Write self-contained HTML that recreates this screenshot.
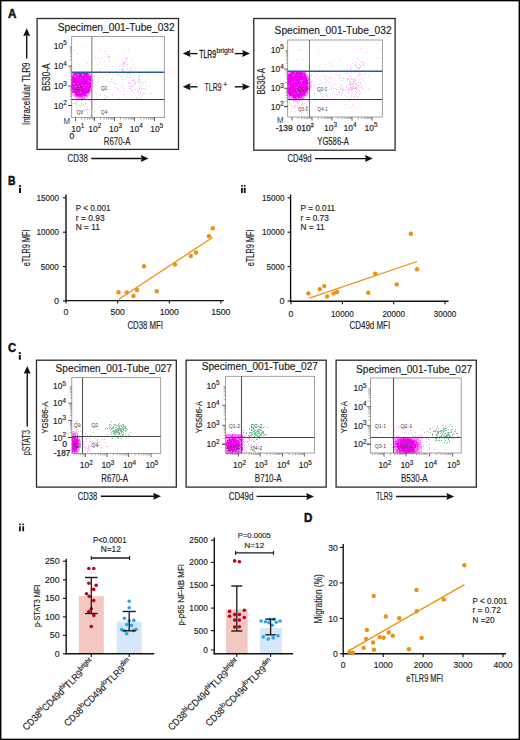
<!DOCTYPE html>
<html><head><meta charset="utf-8"><style>
html,body{margin:0;padding:0;background:#fff;}
body{width:520px;height:740px;position:relative;overflow:hidden;font-family:"Liberation Sans", sans-serif;}
.frame{position:absolute;left:0;top:0;width:518px;height:738px;border:1px solid #000;box-shadow:inset 0 0 0 0.6px #555;}
</style></head><body>
<svg width="520" height="740" viewBox="0 0 520 740" style="position:absolute;left:0;top:0;font-family:'Liberation Sans', sans-serif"><text x="8.1" y="18.1" font-size="12.6" fill="#111" stroke="#111" stroke-width="0.5" font-weight="bold" textLength="8.4" lengthAdjust="spacingAndGlyphs">A</text><rect x="37.1" y="18.5" width="141.4" height="130.9" fill="none" stroke="#2a2a2a" stroke-width="1.3"/><text x="57.7" y="30.7" font-size="10.5" fill="#1a1a1a" stroke="#1a1a1a" stroke-width="0.15" textLength="117" lengthAdjust="spacingAndGlyphs">Specimen_001-Tube_032</text><path d="M71 72h1v1h-1zM90 72h1v1h-1zM90 73h1v1h-1zM71 74h1v1h-1zM90 74h1v1h-1zM92 75h1v1h-1zM92 77h1v1h-1zM92 78h1v1h-1zM92 79h2v1h-2zM93 80h1v1h-1zM92 82h2v1h-2zM93 83h1v1h-1zM92 84h1v1h-1zM92 85h2v1h-2zM92 86h2v1h-2zM91 87h1v1h-1zM91 88h2v1h-2zM92 89h1v1h-1zM91 90h2v1h-2zM71 92h1v1h-1zM90 92h2v1h-2zM71 93h2v1h-2zM90 93h1v1h-1zM71 94h3v1h-3zM90 94h1v1h-1zM72 95h1v1h-1zM88 95h2v1h-2zM73 96h1v1h-1zM88 96h1v1h-1zM75 97h1v1h-1zM85 97h3v1h-3zM75 98h3v1h-3zM79 98h2v1h-2zM85 98h2v1h-2zM77 99h6v1h-6z" fill="#f000f0" fill-opacity="0.2"/><path d="M72 72h1v1h-1zM74 72h1v1h-1zM71 73h2v1h-2zM88 73h1v1h-1zM89 74h1v1h-1zM91 74h1v1h-1zM72 75h1v1h-1zM89 75h1v1h-1zM91 75h1v1h-1zM91 76h1v1h-1zM91 77h1v1h-1zM91 79h1v1h-1zM92 80h1v1h-1zM91 82h1v1h-1zM91 83h1v1h-1zM91 85h1v1h-1zM92 87h1v1h-1zM71 88h1v1h-1zM91 89h1v1h-1zM71 90h1v1h-1zM71 91h1v1h-1zM90 91h2v1h-2zM89 92h1v1h-1zM73 93h2v1h-2zM89 93h1v1h-1zM74 94h1v1h-1zM87 94h3v1h-3zM73 95h1v1h-1zM75 95h1v1h-1zM74 96h2v1h-2zM83 96h2v1h-2zM87 96h1v1h-1zM76 97h2v1h-2zM79 97h1v1h-1zM81 97h3v1h-3zM78 98h1v1h-1zM81 98h1v1h-1zM83 98h2v1h-2z" fill="#f000f0" fill-opacity="0.4"/><path d="M73 72h1v1h-1zM88 72h2v1h-2zM73 73h1v1h-1zM72 74h1v1h-1zM77 74h1v1h-1zM82 74h2v1h-2zM71 75h1v1h-1zM75 75h1v1h-1zM78 75h1v1h-1zM82 75h1v1h-1zM71 76h1v1h-1zM74 76h2v1h-2zM71 77h1v1h-1zM77 77h1v1h-1zM85 77h1v1h-1zM80 78h1v1h-1zM85 78h1v1h-1zM88 80h1v1h-1zM89 81h4v1h-4zM73 83h2v1h-2zM92 83h1v1h-1zM91 84h1v1h-1zM82 85h1v1h-1zM85 85h1v1h-1zM75 86h2v1h-2zM79 86h1v1h-1zM88 86h1v1h-1zM91 86h1v1h-1zM84 87h1v1h-1zM78 88h1v1h-1zM80 88h1v1h-1zM90 88h1v1h-1zM72 90h1v1h-1zM90 90h1v1h-1zM80 92h1v1h-1zM87 93h2v1h-2zM86 94h1v1h-1zM74 95h1v1h-1zM83 95h1v1h-1zM86 95h2v1h-2zM77 96h1v1h-1zM85 96h2v1h-2zM78 97h1v1h-1zM84 97h1v1h-1zM82 98h1v1h-1z" fill="#f000f0" fill-opacity="0.6"/><path d="M87 72h1v1h-1zM89 73h1v1h-1zM90 75h1v1h-1zM90 77h1v1h-1zM91 78h1v1h-1zM91 80h1v1h-1zM90 89h1v1h-1zM89 90h1v1h-1zM72 92h2v1h-2zM76 96h1v1h-1zM78 96h4v1h-4zM80 97h1v1h-1z" fill="#f000f0" fill-opacity="0.8"/><path d="M75 72h12v1h-12zM74 73h14v1h-14zM73 74h4v1h-4zM78 74h4v1h-4zM84 74h5v1h-5zM73 75h2v1h-2zM76 75h2v1h-2zM79 75h3v1h-3zM83 75h6v1h-6zM72 76h2v1h-2zM76 76h15v1h-15zM72 77h5v1h-5zM78 77h7v1h-7zM86 77h4v1h-4zM71 78h9v1h-9zM81 78h4v1h-4zM86 78h5v1h-5zM71 79h20v1h-20zM71 80h17v1h-17zM89 80h2v1h-2zM71 81h18v1h-18zM71 82h20v1h-20zM71 83h2v1h-2zM75 83h16v1h-16zM71 84h20v1h-20zM71 85h11v1h-11zM83 85h2v1h-2zM86 85h5v1h-5zM71 86h4v1h-4zM77 86h2v1h-2zM80 86h8v1h-8zM89 86h2v1h-2zM71 87h13v1h-13zM85 87h6v1h-6zM72 88h6v1h-6zM79 88h1v1h-1zM81 88h9v1h-9zM71 89h19v1h-19zM73 90h16v1h-16zM72 91h18v1h-18zM74 92h6v1h-6zM81 92h8v1h-8zM75 93h12v1h-12zM75 94h11v1h-11zM76 95h7v1h-7zM84 95h2v1h-2zM82 96h1v1h-1z" fill="#f000f0" fill-opacity="1.0"/><path d="M83 109h1v1h-1zM85 93h1v1h-1zM77 101h1v1h-1zM83 105h1v1h-1zM76 105h1v1h-1zM74 99h1v1h-1zM75 103h1v1h-1zM76 100h1v1h-1zM81 105h1v1h-1zM76 101h1v1h-1zM83 98h1v1h-1zM92 102h1v1h-1zM81 104h1v1h-1zM90 116h1v1h-1zM84 99h1v1h-1zM75 104h1v1h-1zM80 111h1v1h-1zM76 90h1v1h-1zM87 92h1v1h-1zM75 95h1v1h-1zM90 101h1v1h-1zM87 109h1v1h-1zM91 101h1v1h-1zM77 87h1v1h-1zM88 88h1v1h-1zM84 103h1v1h-1zM85 109h1v1h-1zM84 111h1v1h-1zM96 97h1v1h-1zM78 95h1v1h-1zM87 107h1v1h-1zM83 95h1v1h-1zM80 107h1v1h-1zM86 95h1v1h-1zM92 107h1v1h-1zM75 103h1v1h-1zM85 99h1v1h-1zM84 97h1v1h-1zM73 103h1v1h-1zM92 91h1v1h-1zM94 100h1v1h-1zM76 100h1v1h-1zM92 106h1v1h-1zM82 94h1v1h-1zM81 112h1v1h-1zM91 100h1v1h-1zM83 95h1v1h-1zM84 110h1v1h-1zM91 112h1v1h-1zM90 101h1v1h-1zM87 97h1v1h-1zM74 102h1v1h-1zM89 100h1v1h-1zM76 111h1v1h-1zM83 104h1v1h-1zM76 103h1v1h-1zM81 104h1v1h-1zM74 102h1v1h-1zM92 107h1v1h-1zM76 107h1v1h-1zM81 100h1v1h-1zM81 103h1v1h-1zM77 62h1v1h-1zM87 63h1v1h-1zM82 46h1v1h-1zM77 53h1v1h-1zM79 64h1v1h-1zM74 50h1v1h-1zM99 69h1v1h-1zM99 61h1v1h-1zM108 57h1v1h-1zM98 58h1v1h-1zM99 71h1v1h-1zM112 66h1v1h-1zM99 49h1v1h-1zM109 61h1v1h-1zM109 59h1v1h-1zM101 59h1v1h-1zM95 57h1v1h-1zM104 51h1v1h-1zM105 65h1v1h-1zM107 54h1v1h-1zM102 58h1v1h-1zM108 56h1v1h-1zM109 56h1v1h-1zM97 64h1v1h-1zM127 73h1v1h-1zM124 64h1v1h-1zM123 61h1v1h-1zM124 66h1v1h-1zM129 73h1v1h-1zM126 58h1v1h-1zM127 64h1v1h-1zM125 58h1v1h-1zM125 79h1v1h-1zM127 77h1v1h-1zM120 72h1v1h-1zM132 65h1v1h-1zM123 70h1v1h-1zM124 53h1v1h-1zM131 68h1v1h-1zM127 58h1v1h-1zM126 58h1v1h-1zM124 62h1v1h-1zM121 64h1v1h-1zM127 69h1v1h-1zM130 70h1v1h-1zM123 68h1v1h-1zM131 60h1v1h-1zM122 70h1v1h-1zM123 65h1v1h-1zM128 73h1v1h-1zM126 60h1v1h-1zM128 49h1v1h-1zM123 63h1v1h-1zM122 79h1v1h-1zM119 69h1v1h-1zM122 65h1v1h-1zM122 71h1v1h-1zM121 69h1v1h-1zM127 69h1v1h-1zM124 63h1v1h-1zM119 66h1v1h-1zM135 67h1v1h-1zM123 62h1v1h-1zM122 59h1v1h-1zM130 67h1v1h-1zM130 72h1v1h-1zM122 70h1v1h-1zM121 69h1v1h-1zM122 69h1v1h-1zM151 93h1v1h-1zM139 89h1v1h-1zM143 88h1v1h-1zM148 93h1v1h-1zM138 81h1v1h-1zM139 76h1v1h-1zM143 84h1v1h-1zM146 85h1v1h-1zM140 92h1v1h-1zM140 97h1v1h-1zM138 79h1v1h-1zM132 98h1v1h-1zM144 94h1v1h-1zM137 90h1v1h-1zM129 88h1v1h-1zM137 98h1v1h-1zM129 86h1v1h-1zM133 84h1v1h-1zM138 87h1v1h-1zM133 79h1v1h-1zM143 88h1v1h-1zM131 86h1v1h-1zM139 88h1v1h-1zM141 88h1v1h-1zM145 81h1v1h-1zM143 93h1v1h-1zM139 81h1v1h-1zM138 91h1v1h-1zM138 78h1v1h-1zM144 88h1v1h-1zM135 82h1v1h-1zM141 86h1v1h-1zM138 83h1v1h-1zM139 75h1v1h-1zM137 81h1v1h-1zM149 86h1v1h-1zM135 89h1v1h-1zM139 79h1v1h-1zM139 75h1v1h-1zM141 82h1v1h-1zM140 85h1v1h-1zM140 83h1v1h-1zM143 82h1v1h-1zM131 90h1v1h-1zM138 91h1v1h-1zM132 90h1v1h-1zM139 81h1v1h-1zM132 86h1v1h-1zM133 85h1v1h-1zM138 79h1v1h-1zM130 88h1v1h-1zM130 83h1v1h-1zM122 86h1v1h-1zM124 90h1v1h-1zM104 95h1v1h-1zM123 88h1v1h-1zM129 83h1v1h-1zM119 98h1v1h-1zM130 77h1v1h-1zM118 74h1v1h-1zM136 97h1v1h-1zM132 80h1v1h-1zM98 77h1v1h-1zM135 83h1v1h-1zM108 82h1v1h-1zM97 82h1v1h-1zM100 95h1v1h-1zM110 81h1v1h-1zM121 76h1v1h-1zM111 79h1v1h-1zM104 98h1v1h-1zM135 84h1v1h-1zM113 82h1v1h-1zM140 93h1v1h-1zM106 97h1v1h-1zM130 86h1v1h-1zM112 94h1v1h-1zM139 80h1v1h-1zM128 82h1v1h-1zM130 88h1v1h-1zM98 79h1v1h-1zM134 80h1v1h-1zM112 78h1v1h-1zM133 80h1v1h-1zM139 95h1v1h-1zM100 94h1v1h-1zM94 76h1v1h-1zM134 82h1v1h-1zM145 92h1v1h-1zM142 95h1v1h-1zM117 88h1v1h-1zM138 92h1v1h-1zM94 79h1v1h-1zM96 93h1v1h-1zM124 94h1v1h-1zM121 84h1v1h-1zM138 79h1v1h-1zM106 74h1v1h-1zM118 89h1v1h-1zM146 89h1v1h-1zM109 73h1v1h-1zM115 87h1v1h-1zM126 97h1v1h-1zM147 74h1v1h-1zM103 77h1v1h-1zM130 75h1v1h-1zM115 84h1v1h-1zM115 83h1v1h-1zM107 96h1v1h-1zM118 75h1v1h-1zM86 110h1v1h-1zM94 111h1v1h-1zM87 112h1v1h-1zM87 114h1v1h-1zM89 109h1v1h-1zM85 103h1v1h-1zM77 109h1v1h-1zM99 106h1v1h-1zM79 105h1v1h-1zM86 109h1v1h-1zM92 115h1v1h-1z" fill="#f000f0" fill-opacity="0.27"/><rect x="71.7" y="36.5" width="92.60000000000001" height="81.1" fill="none" stroke="#8a8a8a" stroke-width="0.8"/><line x1="91.8" y1="36.5" x2="91.8" y2="117.6" stroke="#8c8c8c" stroke-width="1.2"/><line x1="71.7" y1="72.2" x2="164.3" y2="72.2" stroke="#2a5d95" stroke-width="1.5"/><line x1="71.7" y1="99.5" x2="164.3" y2="99.5" stroke="#3a3a3a" stroke-width="1.0"/><text x="79" y="89.7" font-size="5" text-anchor="middle" fill="#444">Q1</text><text x="104" y="89.7" font-size="5" text-anchor="middle" fill="#444">Q2</text><text x="79.8" y="114.3" font-size="5" text-anchor="middle" fill="#444">Q3</text><text x="104.1" y="114.3" font-size="5" text-anchor="middle" fill="#444">Q4</text><text x="53.7" y="48.9" font-size="8.5" fill="#222" stroke="#222" stroke-width="0.15">10<tspan dy="-3.57" font-size="6.30">5</tspan></text><text x="53.7" y="69.1" font-size="8.5" fill="#222" stroke="#222" stroke-width="0.15">10<tspan dy="-3.57" font-size="6.30">4</tspan></text><text x="53.7" y="89.1" font-size="8.5" fill="#222" stroke="#222" stroke-width="0.15">10<tspan dy="-3.57" font-size="6.30">3</tspan></text><text x="53.7" y="108.6" font-size="8.5" fill="#222" stroke="#222" stroke-width="0.15">10<tspan dy="-3.57" font-size="6.30">2</tspan></text><line x1="68.10000000000001" y1="66.0" x2="71.7" y2="66.0" stroke="#333" stroke-width="0.75"/><line x1="69.7" y1="59.9" x2="71.7" y2="59.9" stroke="#777" stroke-width="0.6"/><line x1="69.7" y1="56.4" x2="71.7" y2="56.4" stroke="#777" stroke-width="0.6"/><line x1="69.7" y1="53.8" x2="71.7" y2="53.8" stroke="#777" stroke-width="0.6"/><line x1="69.7" y1="51.9" x2="71.7" y2="51.9" stroke="#777" stroke-width="0.6"/><line x1="69.7" y1="50.3" x2="71.7" y2="50.3" stroke="#777" stroke-width="0.6"/><line x1="69.7" y1="48.9" x2="71.7" y2="48.9" stroke="#777" stroke-width="0.6"/><line x1="69.7" y1="47.8" x2="71.7" y2="47.8" stroke="#777" stroke-width="0.6"/><line x1="69.7" y1="46.7" x2="71.7" y2="46.7" stroke="#777" stroke-width="0.6"/><line x1="68.10000000000001" y1="86.0" x2="71.7" y2="86.0" stroke="#333" stroke-width="0.75"/><line x1="69.7" y1="80.0" x2="71.7" y2="80.0" stroke="#777" stroke-width="0.6"/><line x1="69.7" y1="76.5" x2="71.7" y2="76.5" stroke="#777" stroke-width="0.6"/><line x1="69.7" y1="74.0" x2="71.7" y2="74.0" stroke="#777" stroke-width="0.6"/><line x1="69.7" y1="72.0" x2="71.7" y2="72.0" stroke="#777" stroke-width="0.6"/><line x1="69.7" y1="70.4" x2="71.7" y2="70.4" stroke="#777" stroke-width="0.6"/><line x1="69.7" y1="69.1" x2="71.7" y2="69.1" stroke="#777" stroke-width="0.6"/><line x1="69.7" y1="67.9" x2="71.7" y2="67.9" stroke="#777" stroke-width="0.6"/><line x1="69.7" y1="66.9" x2="71.7" y2="66.9" stroke="#777" stroke-width="0.6"/><line x1="68.10000000000001" y1="105.5" x2="71.7" y2="105.5" stroke="#333" stroke-width="0.75"/><line x1="69.7" y1="99.6" x2="71.7" y2="99.6" stroke="#777" stroke-width="0.6"/><line x1="69.7" y1="96.2" x2="71.7" y2="96.2" stroke="#777" stroke-width="0.6"/><line x1="69.7" y1="93.8" x2="71.7" y2="93.8" stroke="#777" stroke-width="0.6"/><line x1="69.7" y1="91.9" x2="71.7" y2="91.9" stroke="#777" stroke-width="0.6"/><line x1="69.7" y1="90.3" x2="71.7" y2="90.3" stroke="#777" stroke-width="0.6"/><line x1="69.7" y1="89.0" x2="71.7" y2="89.0" stroke="#777" stroke-width="0.6"/><line x1="69.7" y1="87.9" x2="71.7" y2="87.9" stroke="#777" stroke-width="0.6"/><line x1="69.7" y1="86.9" x2="71.7" y2="86.9" stroke="#777" stroke-width="0.6"/><line x1="68.10000000000001" y1="105.5" x2="71.7" y2="105.5" stroke="#333" stroke-width="0.75"/><line x1="75.5" y1="117.6" x2="75.5" y2="121.19999999999999" stroke="#333" stroke-width="0.75"/><line x1="81.5" y1="117.6" x2="81.5" y2="119.6" stroke="#777" stroke-width="0.6"/><line x1="85.0" y1="117.6" x2="85.0" y2="119.6" stroke="#777" stroke-width="0.6"/><line x1="87.5" y1="117.6" x2="87.5" y2="119.6" stroke="#777" stroke-width="0.6"/><line x1="89.5" y1="117.6" x2="89.5" y2="119.6" stroke="#777" stroke-width="0.6"/><line x1="91.1" y1="117.6" x2="91.1" y2="119.6" stroke="#777" stroke-width="0.6"/><line x1="92.4" y1="117.6" x2="92.4" y2="119.6" stroke="#777" stroke-width="0.6"/><line x1="93.6" y1="117.6" x2="93.6" y2="119.6" stroke="#777" stroke-width="0.6"/><line x1="94.6" y1="117.6" x2="94.6" y2="119.6" stroke="#777" stroke-width="0.6"/><line x1="94.5" y1="117.6" x2="94.5" y2="121.19999999999999" stroke="#333" stroke-width="0.75"/><line x1="100.5" y1="117.6" x2="100.5" y2="119.6" stroke="#777" stroke-width="0.6"/><line x1="104.0" y1="117.6" x2="104.0" y2="119.6" stroke="#777" stroke-width="0.6"/><line x1="106.5" y1="117.6" x2="106.5" y2="119.6" stroke="#777" stroke-width="0.6"/><line x1="108.5" y1="117.6" x2="108.5" y2="119.6" stroke="#777" stroke-width="0.6"/><line x1="110.1" y1="117.6" x2="110.1" y2="119.6" stroke="#777" stroke-width="0.6"/><line x1="111.4" y1="117.6" x2="111.4" y2="119.6" stroke="#777" stroke-width="0.6"/><line x1="112.6" y1="117.6" x2="112.6" y2="119.6" stroke="#777" stroke-width="0.6"/><line x1="113.6" y1="117.6" x2="113.6" y2="119.6" stroke="#777" stroke-width="0.6"/><line x1="114.5" y1="117.6" x2="114.5" y2="121.19999999999999" stroke="#333" stroke-width="0.75"/><line x1="120.5" y1="117.6" x2="120.5" y2="119.6" stroke="#777" stroke-width="0.6"/><line x1="124.0" y1="117.6" x2="124.0" y2="119.6" stroke="#777" stroke-width="0.6"/><line x1="126.5" y1="117.6" x2="126.5" y2="119.6" stroke="#777" stroke-width="0.6"/><line x1="128.5" y1="117.6" x2="128.5" y2="119.6" stroke="#777" stroke-width="0.6"/><line x1="130.1" y1="117.6" x2="130.1" y2="119.6" stroke="#777" stroke-width="0.6"/><line x1="131.4" y1="117.6" x2="131.4" y2="119.6" stroke="#777" stroke-width="0.6"/><line x1="132.6" y1="117.6" x2="132.6" y2="119.6" stroke="#777" stroke-width="0.6"/><line x1="133.6" y1="117.6" x2="133.6" y2="119.6" stroke="#777" stroke-width="0.6"/><line x1="134.5" y1="117.6" x2="134.5" y2="121.19999999999999" stroke="#333" stroke-width="0.75"/><line x1="140.5" y1="117.6" x2="140.5" y2="119.6" stroke="#777" stroke-width="0.6"/><line x1="144.0" y1="117.6" x2="144.0" y2="119.6" stroke="#777" stroke-width="0.6"/><line x1="146.5" y1="117.6" x2="146.5" y2="119.6" stroke="#777" stroke-width="0.6"/><line x1="148.5" y1="117.6" x2="148.5" y2="119.6" stroke="#777" stroke-width="0.6"/><line x1="150.1" y1="117.6" x2="150.1" y2="119.6" stroke="#777" stroke-width="0.6"/><line x1="151.4" y1="117.6" x2="151.4" y2="119.6" stroke="#777" stroke-width="0.6"/><line x1="152.6" y1="117.6" x2="152.6" y2="119.6" stroke="#777" stroke-width="0.6"/><line x1="153.6" y1="117.6" x2="153.6" y2="119.6" stroke="#777" stroke-width="0.6"/><line x1="154.5" y1="117.6" x2="154.5" y2="121.19999999999999" stroke="#333" stroke-width="0.75"/><text x="63.6" y="123.6" font-size="8.8" fill="#2a5d95" stroke="#2a5d95" stroke-width="0.1" textLength="6.5" lengthAdjust="spacingAndGlyphs">M</text><text x="71.2" y="131.9" font-size="8.5" fill="#222" stroke="#222" stroke-width="0.15">10<tspan dy="-3.57" font-size="6.30">1</tspan></text><text x="88.3" y="131.9" font-size="8.5" fill="#222" stroke="#222" stroke-width="0.15">10<tspan dy="-3.57" font-size="6.30">2</tspan></text><text x="109" y="131.9" font-size="8.5" fill="#222" stroke="#222" stroke-width="0.15">10<tspan dy="-3.57" font-size="6.30">3</tspan></text><text x="129.8" y="131.9" font-size="8.5" fill="#222" stroke="#222" stroke-width="0.15">10<tspan dy="-3.57" font-size="6.30">4</tspan></text><text x="150.3" y="131.9" font-size="8.5" fill="#222" stroke="#222" stroke-width="0.15">10<tspan dy="-3.57" font-size="6.30">5</tspan></text><text x="69.6" y="139" font-size="8.5" fill="#222" stroke="#222" stroke-width="0.25">0</text><text x="103.8" y="144.7" font-size="10.2" fill="#222" stroke="#222" stroke-width="0.15" textLength="26.6" lengthAdjust="spacingAndGlyphs">R670-A</text><text x="49.8" y="91" font-size="10" fill="#222" stroke="#222" stroke-width="0.15" textLength="27.5" lengthAdjust="spacingAndGlyphs" transform="rotate(-90 49.8 91)">B530-A</text><text x="67.6" y="162.1" font-size="10.3" fill="#222" stroke="#222" stroke-width="0.15" textLength="20.2" lengthAdjust="spacingAndGlyphs">CD38</text><line x1="91.2" y1="158.5" x2="141.79999999999998" y2="158.5" stroke="#111" stroke-width="1.4"/><path d="M148.6 158.5L140.79999999999998 155.0L141.7 158.5L140.79999999999998 162.0Z" fill="#111"/><text x="30.2" y="125" font-size="10" fill="#222" stroke="#222" stroke-width="0.15" textLength="62.3" lengthAdjust="spacingAndGlyphs" transform="rotate(-90 30.2 125)">Intracellular TLR9</text><line x1="26.7" y1="58.5" x2="26.7" y2="35.1" stroke="#111" stroke-width="1.4"/><path d="M26.7 28.3L23.2 36.1L26.7 35.2L30.2 36.1Z" fill="#111"/><line x1="189.5" y1="53.6" x2="197.5" y2="53.6" stroke="#111" stroke-width="1.4"/><path d="M182.7 53.6L190.5 50.1L189.6 53.6L190.5 57.1Z" fill="#111"/><text x="199.2" y="57.5" font-size="10.8" fill="#1a1a1a" stroke="#1a1a1a" stroke-width="0.3" textLength="17" lengthAdjust="spacingAndGlyphs">TLR9</text><text x="216.4" y="53" font-size="6.6" fill="#222" stroke="#222" stroke-width="0.15" textLength="17.2" lengthAdjust="spacingAndGlyphs">bright</text><line x1="234.8" y1="53.6" x2="243.2" y2="53.6" stroke="#111" stroke-width="1.4"/><path d="M250 53.6L242.2 50.1L243.1 53.6L242.2 57.1Z" fill="#111"/><line x1="189.5" y1="86.8" x2="197.5" y2="86.8" stroke="#111" stroke-width="1.4"/><path d="M182.7 86.8L190.5 83.3L189.6 86.8L190.5 90.3Z" fill="#111"/><text x="204.6" y="90.7" font-size="10.8" fill="#222" stroke="#222" stroke-width="0.15" textLength="17" lengthAdjust="spacingAndGlyphs">TLR9</text><text x="223" y="87.2" font-size="7.5" fill="#222" stroke="#222" stroke-width="0.15">+</text><line x1="234.8" y1="86.8" x2="243.2" y2="86.8" stroke="#111" stroke-width="1.4"/><path d="M250 86.8L242.2 83.3L243.1 86.8L242.2 90.3Z" fill="#111"/><rect x="253.8" y="18.5" width="141.3" height="131.7" fill="none" stroke="#2a2a2a" stroke-width="1.3"/><text x="274.6" y="33.8" font-size="10.2" fill="#1a1a1a" stroke="#1a1a1a" stroke-width="0.15" textLength="117" lengthAdjust="spacingAndGlyphs">Specimen_001-Tube_032</text><path d="M306 72h1v1h-1zM287 73h1v1h-1zM306 73h2v1h-2zM307 74h1v1h-1zM308 75h2v1h-2zM308 76h2v1h-2zM310 77h1v1h-1zM309 78h2v1h-2zM310 79h1v1h-1zM309 80h2v1h-2zM310 81h2v1h-2zM310 82h1v1h-1zM310 83h2v1h-2zM310 84h2v1h-2zM309 85h1v1h-1zM311 85h1v1h-1zM311 86h1v1h-1zM311 87h1v1h-1zM310 88h1v1h-1zM310 89h1v1h-1zM308 90h1v1h-1zM310 90h1v1h-1zM309 91h1v1h-1zM308 92h2v1h-2zM308 93h2v1h-2zM307 94h1v1h-1zM307 95h1v1h-1zM305 96h2v1h-2zM287 97h2v1h-2zM305 97h2v1h-2zM288 98h2v1h-2zM292 98h1v1h-1zM304 98h1v1h-1zM289 99h2v1h-2zM293 99h1v1h-1zM298 99h1v1h-1zM301 99h3v1h-3zM291 100h2v1h-2zM294 100h1v1h-1zM296 100h3v1h-3zM300 100h2v1h-2zM294 101h5v1h-5z" fill="#f000f0" fill-opacity="0.2"/><path d="M287 72h2v1h-2zM305 72h1v1h-1zM289 73h1v1h-1zM305 73h1v1h-1zM306 75h2v1h-2zM307 76h1v1h-1zM309 77h1v1h-1zM308 78h1v1h-1zM309 79h1v1h-1zM308 80h1v1h-1zM308 81h2v1h-2zM308 84h2v1h-2zM308 85h1v1h-1zM310 85h1v1h-1zM309 86h2v1h-2zM308 87h1v1h-1zM310 87h1v1h-1zM309 89h1v1h-1zM309 90h1v1h-1zM307 91h2v1h-2zM306 93h1v1h-1zM287 94h1v1h-1zM306 94h1v1h-1zM288 95h1v1h-1zM306 95h1v1h-1zM287 96h1v1h-1zM290 96h1v1h-1zM304 96h1v1h-1zM290 97h1v1h-1zM303 97h2v1h-2zM290 98h2v1h-2zM294 98h1v1h-1zM297 98h1v1h-1zM299 98h2v1h-2zM303 98h1v1h-1zM291 99h2v1h-2zM300 99h1v1h-1zM293 100h1v1h-1zM295 100h1v1h-1zM299 100h1v1h-1z" fill="#f000f0" fill-opacity="0.4"/><path d="M289 72h2v1h-2zM295 72h1v1h-1zM302 72h1v1h-1zM288 73h1v1h-1zM287 74h1v1h-1zM294 74h1v1h-1zM306 74h1v1h-1zM292 75h1v1h-1zM303 75h1v1h-1zM306 76h1v1h-1zM307 77h2v1h-2zM307 78h1v1h-1zM307 79h1v1h-1zM300 80h1v1h-1zM302 80h1v1h-1zM294 81h1v1h-1zM301 81h1v1h-1zM291 82h1v1h-1zM308 82h2v1h-2zM301 83h1v1h-1zM309 83h1v1h-1zM289 84h1v1h-1zM298 85h1v1h-1zM307 85h1v1h-1zM287 86h3v1h-3zM308 86h1v1h-1zM296 87h1v1h-1zM309 87h1v1h-1zM303 88h1v1h-1zM309 88h1v1h-1zM300 89h1v1h-1zM308 89h1v1h-1zM296 90h1v1h-1zM307 90h1v1h-1zM298 92h1v1h-1zM307 92h1v1h-1zM294 93h1v1h-1zM307 93h1v1h-1zM288 94h1v1h-1zM305 94h1v1h-1zM288 96h2v1h-2zM291 96h1v1h-1zM300 96h1v1h-1zM302 96h2v1h-2zM289 97h1v1h-1zM291 97h2v1h-2zM296 97h2v1h-2zM302 97h1v1h-1zM301 98h2v1h-2zM294 99h4v1h-4zM299 99h1v1h-1z" fill="#f000f0" fill-opacity="0.6"/><path d="M303 72h2v1h-2zM303 73h1v1h-1zM305 74h1v1h-1zM305 75h1v1h-1zM308 79h1v1h-1zM308 83h1v1h-1zM308 88h1v1h-1zM306 92h1v1h-1zM287 93h1v1h-1zM305 93h1v1h-1zM287 95h1v1h-1zM303 95h3v1h-3zM301 97h1v1h-1zM293 98h1v1h-1zM298 98h1v1h-1z" fill="#f000f0" fill-opacity="0.8"/><path d="M291 72h4v1h-4zM296 72h6v1h-6zM290 73h13v1h-13zM304 73h1v1h-1zM288 74h6v1h-6zM295 74h10v1h-10zM287 75h5v1h-5zM293 75h10v1h-10zM304 75h1v1h-1zM287 76h19v1h-19zM287 77h20v1h-20zM287 78h20v1h-20zM287 79h20v1h-20zM287 80h13v1h-13zM301 80h1v1h-1zM303 80h5v1h-5zM287 81h7v1h-7zM295 81h6v1h-6zM302 81h6v1h-6zM287 82h4v1h-4zM292 82h16v1h-16zM287 83h14v1h-14zM302 83h6v1h-6zM287 84h2v1h-2zM290 84h18v1h-18zM287 85h11v1h-11zM299 85h8v1h-8zM290 86h18v1h-18zM287 87h9v1h-9zM297 87h11v1h-11zM287 88h16v1h-16zM304 88h4v1h-4zM287 89h13v1h-13zM301 89h7v1h-7zM287 90h9v1h-9zM297 90h10v1h-10zM287 91h20v1h-20zM287 92h11v1h-11zM299 92h7v1h-7zM288 93h6v1h-6zM295 93h10v1h-10zM289 94h16v1h-16zM289 95h14v1h-14zM292 96h8v1h-8zM301 96h1v1h-1zM293 97h3v1h-3zM298 97h3v1h-3zM295 98h2v1h-2z" fill="#f000f0" fill-opacity="1.0"/><path d="M314 93h1v1h-1zM311 81h1v1h-1zM342 77h1v1h-1zM341 80h1v1h-1zM334 98h1v1h-1zM327 87h1v1h-1zM343 80h1v1h-1zM324 77h1v1h-1zM310 75h1v1h-1zM325 82h1v1h-1zM329 89h1v1h-1zM329 85h1v1h-1zM341 94h1v1h-1zM312 99h1v1h-1zM340 88h1v1h-1zM328 82h1v1h-1zM336 94h1v1h-1zM324 75h1v1h-1zM320 93h1v1h-1zM322 96h1v1h-1zM320 93h1v1h-1zM326 76h1v1h-1zM331 88h1v1h-1zM339 94h1v1h-1zM316 84h1v1h-1zM326 95h1v1h-1zM329 77h1v1h-1zM339 87h1v1h-1zM335 88h1v1h-1zM332 93h1v1h-1zM334 84h1v1h-1zM326 80h1v1h-1zM338 92h1v1h-1zM339 76h1v1h-1zM330 83h1v1h-1zM314 85h1v1h-1zM325 93h1v1h-1zM319 84h1v1h-1zM317 88h1v1h-1zM320 91h1v1h-1zM339 91h1v1h-1zM322 98h1v1h-1zM325 85h1v1h-1zM323 88h1v1h-1zM316 74h1v1h-1zM330 78h1v1h-1zM325 79h1v1h-1zM343 78h1v1h-1zM332 86h1v1h-1zM344 78h1v1h-1zM340 88h1v1h-1zM327 94h1v1h-1zM311 75h1v1h-1zM317 79h1v1h-1zM314 86h1v1h-1zM336 74h1v1h-1zM315 77h1v1h-1zM333 88h1v1h-1zM321 83h1v1h-1zM327 96h1v1h-1zM355 78h1v1h-1zM350 76h1v1h-1zM338 99h1v1h-1zM351 83h1v1h-1zM360 74h1v1h-1zM339 78h1v1h-1zM346 87h1v1h-1zM351 96h1v1h-1zM342 87h1v1h-1zM347 96h1v1h-1zM351 88h1v1h-1zM342 90h1v1h-1zM353 94h1v1h-1zM353 84h1v1h-1zM342 89h1v1h-1zM351 84h1v1h-1zM358 82h1v1h-1zM350 92h1v1h-1zM354 81h1v1h-1zM355 87h1v1h-1zM349 81h1v1h-1zM357 86h1v1h-1zM353 83h1v1h-1zM344 95h1v1h-1zM354 87h1v1h-1zM356 87h1v1h-1zM356 99h1v1h-1zM347 65h1v1h-1zM354 78h1v1h-1zM360 66h1v1h-1zM352 86h1v1h-1zM358 90h1v1h-1zM359 91h1v1h-1zM351 88h1v1h-1zM355 80h1v1h-1zM349 100h1v1h-1zM358 89h1v1h-1zM350 84h1v1h-1zM347 78h1v1h-1zM351 89h1v1h-1zM350 83h1v1h-1zM353 83h1v1h-1zM354 88h1v1h-1zM343 88h1v1h-1zM347 80h1v1h-1zM353 96h1v1h-1zM354 79h1v1h-1zM351 78h1v1h-1zM368 89h1v1h-1zM358 87h1v1h-1zM350 87h1v1h-1zM356 83h1v1h-1zM360 87h1v1h-1zM353 82h1v1h-1zM340 74h1v1h-1zM352 92h1v1h-1zM351 79h1v1h-1zM365 84h1v1h-1zM339 92h1v1h-1zM361 86h1v1h-1zM350 107h1v1h-1zM357 76h1v1h-1zM349 81h1v1h-1zM352 87h1v1h-1zM358 96h1v1h-1zM352 84h1v1h-1zM358 75h1v1h-1zM351 95h1v1h-1zM348 79h1v1h-1zM350 85h1v1h-1zM348 93h1v1h-1zM350 81h1v1h-1zM360 83h1v1h-1zM343 90h1v1h-1zM340 85h1v1h-1zM351 88h1v1h-1zM362 79h1v1h-1zM358 85h1v1h-1zM360 78h1v1h-1zM359 74h1v1h-1zM346 99h1v1h-1zM352 89h1v1h-1zM334 93h1v1h-1zM347 79h1v1h-1zM355 86h1v1h-1zM341 85h1v1h-1zM338 75h1v1h-1zM343 90h1v1h-1zM353 81h1v1h-1zM359 85h1v1h-1zM368 75h1v1h-1zM360 93h1v1h-1zM341 92h1v1h-1zM336 89h1v1h-1zM352 79h1v1h-1zM358 82h1v1h-1zM341 95h1v1h-1zM348 84h1v1h-1zM348 88h1v1h-1zM351 87h1v1h-1zM350 78h1v1h-1zM355 97h1v1h-1zM358 71h1v1h-1zM352 88h1v1h-1zM356 85h1v1h-1zM364 74h1v1h-1zM345 89h1v1h-1zM345 90h1v1h-1zM355 86h1v1h-1zM363 80h1v1h-1zM352 89h1v1h-1zM359 94h1v1h-1zM349 88h1v1h-1zM357 99h1v1h-1zM347 92h1v1h-1zM356 92h1v1h-1zM354 96h1v1h-1zM354 81h1v1h-1zM360 82h1v1h-1zM358 90h1v1h-1zM348 90h1v1h-1zM357 97h1v1h-1zM341 95h1v1h-1zM358 87h1v1h-1zM369 88h1v1h-1zM355 84h1v1h-1zM355 83h1v1h-1zM352 83h1v1h-1zM357 93h1v1h-1zM349 83h1v1h-1zM356 83h1v1h-1zM350 87h1v1h-1zM349 82h1v1h-1zM353 84h1v1h-1zM351 70h1v1h-1zM340 89h1v1h-1zM365 84h1v1h-1zM353 88h1v1h-1zM341 89h1v1h-1zM359 72h1v1h-1zM352 104h1v1h-1zM353 88h1v1h-1zM356 88h1v1h-1zM346 73h1v1h-1zM333 91h1v1h-1zM351 90h1v1h-1zM353 84h1v1h-1zM358 89h1v1h-1zM347 96h1v1h-1zM350 84h1v1h-1zM354 80h1v1h-1zM350 97h1v1h-1zM350 89h1v1h-1zM353 86h1v1h-1zM345 104h1v1h-1zM362 88h1v1h-1zM346 86h1v1h-1zM352 89h1v1h-1zM350 84h1v1h-1zM347 89h1v1h-1zM355 88h1v1h-1zM358 82h1v1h-1zM361 85h1v1h-1zM356 89h1v1h-1zM349 90h1v1h-1zM357 91h1v1h-1zM342 93h1v1h-1zM352 89h1v1h-1zM355 91h1v1h-1zM355 84h1v1h-1zM356 65h1v1h-1zM362 62h1v1h-1zM350 69h1v1h-1zM359 64h1v1h-1zM370 71h1v1h-1zM350 66h1v1h-1zM363 64h1v1h-1zM350 68h1v1h-1zM359 69h1v1h-1zM364 63h1v1h-1zM363 65h1v1h-1zM354 71h1v1h-1zM352 63h1v1h-1zM352 63h1v1h-1zM360 67h1v1h-1zM356 62h1v1h-1zM357 58h1v1h-1zM358 60h1v1h-1zM359 67h1v1h-1zM359 68h1v1h-1zM358 68h1v1h-1zM351 67h1v1h-1zM363 62h1v1h-1zM346 69h1v1h-1zM362 70h1v1h-1zM355 64h1v1h-1zM356 69h1v1h-1zM355 65h1v1h-1zM356 67h1v1h-1zM357 67h1v1h-1zM366 52h1v1h-1zM377 69h1v1h-1zM339 60h1v1h-1zM325 64h1v1h-1zM361 65h1v1h-1zM329 63h1v1h-1zM319 66h1v1h-1zM359 68h1v1h-1zM299 50h1v1h-1zM360 48h1v1h-1zM376 57h1v1h-1zM301 49h1v1h-1zM361 61h1v1h-1zM294 70h1v1h-1zM303 59h1v1h-1zM318 50h1v1h-1zM380 49h1v1h-1zM297 59h1v1h-1zM332 65h1v1h-1zM331 66h1v1h-1zM308 65h1v1h-1zM378 58h1v1h-1zM298 99h1v1h-1zM302 98h1v1h-1zM289 100h1v1h-1zM298 103h1v1h-1zM308 107h1v1h-1zM291 111h1v1h-1zM294 99h1v1h-1zM308 101h1v1h-1zM301 112h1v1h-1zM306 109h1v1h-1zM299 92h1v1h-1zM289 99h1v1h-1zM301 101h1v1h-1zM307 114h1v1h-1zM291 105h1v1h-1zM294 98h1v1h-1zM297 99h1v1h-1zM289 101h1v1h-1zM314 101h1v1h-1zM302 103h1v1h-1zM296 106h1v1h-1zM295 105h1v1h-1zM315 109h1v1h-1zM314 97h1v1h-1zM295 105h1v1h-1zM301 105h1v1h-1zM307 112h1v1h-1zM290 103h1v1h-1zM294 106h1v1h-1zM308 100h1v1h-1zM293 106h1v1h-1zM295 106h1v1h-1zM289 101h1v1h-1zM293 102h1v1h-1zM303 104h1v1h-1zM292 107h1v1h-1zM289 98h1v1h-1zM294 108h1v1h-1zM311 102h1v1h-1zM299 114h1v1h-1zM294 111h1v1h-1zM299 102h1v1h-1zM301 101h1v1h-1zM300 107h1v1h-1zM297 102h1v1h-1zM304 103h1v1h-1zM305 107h1v1h-1zM295 100h1v1h-1zM307 106h1v1h-1zM294 99h1v1h-1zM301 109h1v1h-1zM297 103h1v1h-1zM306 108h1v1h-1zM306 101h1v1h-1zM306 106h1v1h-1zM303 96h1v1h-1zM299 105h1v1h-1zM291 91h1v1h-1zM301 104h1v1h-1zM299 108h1v1h-1z" fill="#f000f0" fill-opacity="0.27"/><rect x="287.7" y="40" width="94.60000000000002" height="77" fill="none" stroke="#8a8a8a" stroke-width="0.8"/><line x1="309.5" y1="40" x2="309.5" y2="117" stroke="#555" stroke-width="0.8"/><line x1="287.7" y1="71.2" x2="382.3" y2="71.2" stroke="#2a5d95" stroke-width="1.4"/><line x1="287.7" y1="99.5" x2="382.3" y2="99.5" stroke="#3a3a3a" stroke-width="1.0"/><text x="303" y="91" font-size="4.6" text-anchor="middle" fill="#444">Q1-1</text><text x="322" y="91" font-size="4.6" text-anchor="middle" fill="#444">Q2-1</text><text x="303" y="110.6" font-size="4.6" text-anchor="middle" fill="#444">Q3-1</text><text x="322.5" y="110.6" font-size="4.6" text-anchor="middle" fill="#444">Q4-1</text><text x="270.8" y="52.7" font-size="8.5" fill="#222" stroke="#222" stroke-width="0.15">10<tspan dy="-3.57" font-size="6.30">5</tspan></text><text x="270.8" y="72.1" font-size="8.5" fill="#222" stroke="#222" stroke-width="0.15">10<tspan dy="-3.57" font-size="6.30">4</tspan></text><text x="270.8" y="91.39999999999999" font-size="8.5" fill="#222" stroke="#222" stroke-width="0.15">10<tspan dy="-3.57" font-size="6.30">3</tspan></text><text x="270.8" y="109.69999999999999" font-size="8.5" fill="#222" stroke="#222" stroke-width="0.15">10<tspan dy="-3.57" font-size="6.30">2</tspan></text><line x1="284.09999999999997" y1="69.0" x2="287.7" y2="69.0" stroke="#333" stroke-width="0.75"/><line x1="285.7" y1="63.2" x2="287.7" y2="63.2" stroke="#777" stroke-width="0.6"/><line x1="285.7" y1="59.7" x2="287.7" y2="59.7" stroke="#777" stroke-width="0.6"/><line x1="285.7" y1="57.3" x2="287.7" y2="57.3" stroke="#777" stroke-width="0.6"/><line x1="285.7" y1="55.4" x2="287.7" y2="55.4" stroke="#777" stroke-width="0.6"/><line x1="285.7" y1="53.9" x2="287.7" y2="53.9" stroke="#777" stroke-width="0.6"/><line x1="285.7" y1="52.6" x2="287.7" y2="52.6" stroke="#777" stroke-width="0.6"/><line x1="285.7" y1="51.5" x2="287.7" y2="51.5" stroke="#777" stroke-width="0.6"/><line x1="285.7" y1="50.5" x2="287.7" y2="50.5" stroke="#777" stroke-width="0.6"/><line x1="284.09999999999997" y1="88.3" x2="287.7" y2="88.3" stroke="#333" stroke-width="0.75"/><line x1="285.7" y1="82.5" x2="287.7" y2="82.5" stroke="#777" stroke-width="0.6"/><line x1="285.7" y1="79.1" x2="287.7" y2="79.1" stroke="#777" stroke-width="0.6"/><line x1="285.7" y1="76.7" x2="287.7" y2="76.7" stroke="#777" stroke-width="0.6"/><line x1="285.7" y1="74.8" x2="287.7" y2="74.8" stroke="#777" stroke-width="0.6"/><line x1="285.7" y1="73.3" x2="287.7" y2="73.3" stroke="#777" stroke-width="0.6"/><line x1="285.7" y1="72.0" x2="287.7" y2="72.0" stroke="#777" stroke-width="0.6"/><line x1="285.7" y1="70.9" x2="287.7" y2="70.9" stroke="#777" stroke-width="0.6"/><line x1="285.7" y1="69.9" x2="287.7" y2="69.9" stroke="#777" stroke-width="0.6"/><line x1="284.09999999999997" y1="106.6" x2="287.7" y2="106.6" stroke="#333" stroke-width="0.75"/><line x1="285.7" y1="101.1" x2="287.7" y2="101.1" stroke="#777" stroke-width="0.6"/><line x1="285.7" y1="97.9" x2="287.7" y2="97.9" stroke="#777" stroke-width="0.6"/><line x1="285.7" y1="95.6" x2="287.7" y2="95.6" stroke="#777" stroke-width="0.6"/><line x1="285.7" y1="93.8" x2="287.7" y2="93.8" stroke="#777" stroke-width="0.6"/><line x1="285.7" y1="92.4" x2="287.7" y2="92.4" stroke="#777" stroke-width="0.6"/><line x1="285.7" y1="91.1" x2="287.7" y2="91.1" stroke="#777" stroke-width="0.6"/><line x1="285.7" y1="90.1" x2="287.7" y2="90.1" stroke="#777" stroke-width="0.6"/><line x1="285.7" y1="89.1" x2="287.7" y2="89.1" stroke="#777" stroke-width="0.6"/><line x1="284.09999999999997" y1="106.6" x2="287.7" y2="106.6" stroke="#333" stroke-width="0.75"/><text x="277" y="123.4" font-size="8.8" fill="#2a5d95" stroke="#2a5d95" stroke-width="0.1" textLength="6.5" lengthAdjust="spacingAndGlyphs">M</text><text x="275.8" y="131" font-size="8.5" fill="#222" stroke="#222" stroke-width="0.25" textLength="16.8" lengthAdjust="spacingAndGlyphs">-139</text><text x="296.5" y="131" font-size="8.5" fill="#222" stroke="#222" stroke-width="0.25">010<tspan dy="-3.6" font-size="5.8">2</tspan></text><text x="324" y="131" font-size="8.5" fill="#222" stroke="#222" stroke-width="0.15">10<tspan dy="-3.57" font-size="6.30">3</tspan></text><text x="343.5" y="131" font-size="8.5" fill="#222" stroke="#222" stroke-width="0.15">10<tspan dy="-3.57" font-size="6.30">4</tspan></text><text x="364.5" y="131" font-size="8.5" fill="#222" stroke="#222" stroke-width="0.15">10<tspan dy="-3.57" font-size="6.30">5</tspan></text><line x1="292.0" y1="117" x2="292.0" y2="120.6" stroke="#333" stroke-width="0.75"/><line x1="298.0" y1="117" x2="298.0" y2="119.0" stroke="#777" stroke-width="0.6"/><line x1="301.5" y1="117" x2="301.5" y2="119.0" stroke="#777" stroke-width="0.6"/><line x1="304.0" y1="117" x2="304.0" y2="119.0" stroke="#777" stroke-width="0.6"/><line x1="306.0" y1="117" x2="306.0" y2="119.0" stroke="#777" stroke-width="0.6"/><line x1="307.6" y1="117" x2="307.6" y2="119.0" stroke="#777" stroke-width="0.6"/><line x1="308.9" y1="117" x2="308.9" y2="119.0" stroke="#777" stroke-width="0.6"/><line x1="310.1" y1="117" x2="310.1" y2="119.0" stroke="#777" stroke-width="0.6"/><line x1="311.1" y1="117" x2="311.1" y2="119.0" stroke="#777" stroke-width="0.6"/><line x1="312.0" y1="117" x2="312.0" y2="120.6" stroke="#333" stroke-width="0.75"/><line x1="318.0" y1="117" x2="318.0" y2="119.0" stroke="#777" stroke-width="0.6"/><line x1="321.5" y1="117" x2="321.5" y2="119.0" stroke="#777" stroke-width="0.6"/><line x1="324.0" y1="117" x2="324.0" y2="119.0" stroke="#777" stroke-width="0.6"/><line x1="326.0" y1="117" x2="326.0" y2="119.0" stroke="#777" stroke-width="0.6"/><line x1="327.6" y1="117" x2="327.6" y2="119.0" stroke="#777" stroke-width="0.6"/><line x1="328.9" y1="117" x2="328.9" y2="119.0" stroke="#777" stroke-width="0.6"/><line x1="330.1" y1="117" x2="330.1" y2="119.0" stroke="#777" stroke-width="0.6"/><line x1="331.1" y1="117" x2="331.1" y2="119.0" stroke="#777" stroke-width="0.6"/><line x1="332.0" y1="117" x2="332.0" y2="120.6" stroke="#333" stroke-width="0.75"/><line x1="338.0" y1="117" x2="338.0" y2="119.0" stroke="#777" stroke-width="0.6"/><line x1="341.5" y1="117" x2="341.5" y2="119.0" stroke="#777" stroke-width="0.6"/><line x1="344.0" y1="117" x2="344.0" y2="119.0" stroke="#777" stroke-width="0.6"/><line x1="346.0" y1="117" x2="346.0" y2="119.0" stroke="#777" stroke-width="0.6"/><line x1="347.6" y1="117" x2="347.6" y2="119.0" stroke="#777" stroke-width="0.6"/><line x1="348.9" y1="117" x2="348.9" y2="119.0" stroke="#777" stroke-width="0.6"/><line x1="350.1" y1="117" x2="350.1" y2="119.0" stroke="#777" stroke-width="0.6"/><line x1="351.1" y1="117" x2="351.1" y2="119.0" stroke="#777" stroke-width="0.6"/><line x1="352.0" y1="117" x2="352.0" y2="120.6" stroke="#333" stroke-width="0.75"/><line x1="358.0" y1="117" x2="358.0" y2="119.0" stroke="#777" stroke-width="0.6"/><line x1="361.5" y1="117" x2="361.5" y2="119.0" stroke="#777" stroke-width="0.6"/><line x1="364.0" y1="117" x2="364.0" y2="119.0" stroke="#777" stroke-width="0.6"/><line x1="366.0" y1="117" x2="366.0" y2="119.0" stroke="#777" stroke-width="0.6"/><line x1="367.6" y1="117" x2="367.6" y2="119.0" stroke="#777" stroke-width="0.6"/><line x1="368.9" y1="117" x2="368.9" y2="119.0" stroke="#777" stroke-width="0.6"/><line x1="370.1" y1="117" x2="370.1" y2="119.0" stroke="#777" stroke-width="0.6"/><line x1="371.1" y1="117" x2="371.1" y2="119.0" stroke="#777" stroke-width="0.6"/><line x1="372" y1="117" x2="372" y2="120.6" stroke="#333" stroke-width="0.75"/><text x="317.3" y="144.7" font-size="10.4" fill="#222" stroke="#222" stroke-width="0.15" textLength="31.5" lengthAdjust="spacingAndGlyphs">YG586-A</text><text x="264.5" y="94.5" font-size="10" fill="#222" stroke="#222" stroke-width="0.15" textLength="26.5" lengthAdjust="spacingAndGlyphs" transform="rotate(-90 264.5 94.5)">B530-A</text><text x="287.5" y="162.2" font-size="10.3" fill="#222" stroke="#222" stroke-width="0.15" textLength="24" lengthAdjust="spacingAndGlyphs">CD49d</text><line x1="315" y1="158.6" x2="366.0" y2="158.6" stroke="#111" stroke-width="1.4"/><path d="M372.8 158.6L365.0 155.1L365.9 158.6L365.0 162.1Z" fill="#111"/><text x="8.1" y="184.6" font-size="12.4" fill="#111" stroke="#111" stroke-width="0.5" font-weight="bold" textLength="7.5" lengthAdjust="spacingAndGlyphs">B</text><rect x="19" y="184.9" width="2.0" height="2.0" rx="0.6" fill="#111"/><rect x="19" y="187.8" width="2.0" height="5.099999999999994" rx="0.5" fill="#111"/><rect x="241" y="184.9" width="1.8" height="1.8" rx="0.6" fill="#111"/><rect x="241" y="187.8" width="1.8" height="5.099999999999994" rx="0.5" fill="#111"/><rect x="243.8" y="184.9" width="1.8" height="1.8" rx="0.6" fill="#111"/><rect x="243.8" y="187.8" width="1.8" height="5.099999999999994" rx="0.5" fill="#111"/><line x1="66" y1="194.5" x2="66" y2="301.3" stroke="#111" stroke-width="1.4"/><line x1="65.3" y1="300.6" x2="223.8" y2="300.6" stroke="#111" stroke-width="1.4"/><line x1="63" y1="197.8" x2="66" y2="197.8" stroke="#111" stroke-width="1.1"/><text x="58.9" y="200.75" font-size="9" text-anchor="end" fill="#222" stroke="#222" stroke-width="0.15" textLength="22.5" lengthAdjust="spacingAndGlyphs">15000</text><line x1="63" y1="232.2" x2="66" y2="232.2" stroke="#111" stroke-width="1.1"/><text x="58.9" y="235.14999999999998" font-size="9" text-anchor="end" fill="#222" stroke="#222" stroke-width="0.15" textLength="22.5" lengthAdjust="spacingAndGlyphs">10000</text><line x1="63" y1="266.6" x2="66" y2="266.6" stroke="#111" stroke-width="1.1"/><text x="58.9" y="269.55" font-size="9" text-anchor="end" fill="#222" stroke="#222" stroke-width="0.15" textLength="18.2" lengthAdjust="spacingAndGlyphs">5000</text><line x1="63" y1="301" x2="66" y2="301" stroke="#111" stroke-width="1.1"/><text x="58.9" y="303.95" font-size="9" text-anchor="end" fill="#222" stroke="#222" stroke-width="0.15">0</text><line x1="66" y1="300.6" x2="66" y2="303.6" stroke="#111" stroke-width="1.1"/><text x="66" y="315" font-size="8.7" text-anchor="middle" fill="#222" stroke="#222" stroke-width="0.15">0</text><line x1="117.7" y1="300.6" x2="117.7" y2="303.6" stroke="#111" stroke-width="1.1"/><text x="117.7" y="315" font-size="8.7" text-anchor="middle" fill="#222" stroke="#222" stroke-width="0.15">500</text><line x1="169.3" y1="300.6" x2="169.3" y2="303.6" stroke="#111" stroke-width="1.1"/><text x="169.3" y="315" font-size="8.7" text-anchor="middle" fill="#222" stroke="#222" stroke-width="0.15">1000</text><line x1="220.8" y1="300.6" x2="220.8" y2="303.6" stroke="#111" stroke-width="1.1"/><text x="220.8" y="315" font-size="8.7" text-anchor="middle" fill="#222" stroke="#222" stroke-width="0.15">1500</text><line x1="118.75" y1="299.25" x2="212.5" y2="237.5" stroke="#ef8f14" stroke-width="1.3"/><circle cx="118.5" cy="292.25" r="2.2" fill="#ef8f14"/><circle cx="126.75" cy="292.5" r="2.2" fill="#ef8f14"/><circle cx="133.5" cy="296" r="2.2" fill="#ef8f14"/><circle cx="137" cy="290" r="2.2" fill="#ef8f14"/><circle cx="144" cy="266.25" r="2.2" fill="#ef8f14"/><circle cx="156.75" cy="291.25" r="2.2" fill="#ef8f14"/><circle cx="175" cy="264.5" r="2.2" fill="#ef8f14"/><circle cx="190.75" cy="256" r="2.2" fill="#ef8f14"/><circle cx="196" cy="252.5" r="2.2" fill="#ef8f14"/><circle cx="209" cy="236.25" r="2.2" fill="#ef8f14"/><circle cx="212.75" cy="228.25" r="2.2" fill="#ef8f14"/><text x="75.8" y="211.2" font-size="8.6" fill="#222" stroke="#222" stroke-width="0.15" textLength="34.6" lengthAdjust="spacingAndGlyphs">P &lt; 0.001</text><text x="75.8" y="220.64999999999998" font-size="8.6" fill="#222" stroke="#222" stroke-width="0.15" textLength="28.8" lengthAdjust="spacingAndGlyphs">r = 0.93</text><text x="75.8" y="230.1" font-size="8.6" fill="#222" stroke="#222" stroke-width="0.15" textLength="24" lengthAdjust="spacingAndGlyphs">N = 11</text><text x="30.2" y="266.3" font-size="10.1" fill="#222" stroke="#222" stroke-width="0.15" textLength="36.9" lengthAdjust="spacingAndGlyphs" transform="rotate(-90 30.2 266.3)">eTLR9 MFI</text><text x="127.4" y="329.2" font-size="10" fill="#222" stroke="#222" stroke-width="0.15" textLength="35.6" lengthAdjust="spacingAndGlyphs">CD38 MFI</text><line x1="290.6" y1="194.5" x2="290.6" y2="301.9" stroke="#111" stroke-width="1.4"/><line x1="289.90000000000003" y1="301.2" x2="448.6" y2="301.2" stroke="#111" stroke-width="1.4"/><line x1="287.6" y1="197.8" x2="290.6" y2="197.8" stroke="#111" stroke-width="1.1"/><text x="284.6" y="200.75" font-size="9" text-anchor="end" fill="#222" stroke="#222" stroke-width="0.15" textLength="22.5" lengthAdjust="spacingAndGlyphs">15000</text><line x1="287.6" y1="232.2" x2="290.6" y2="232.2" stroke="#111" stroke-width="1.1"/><text x="284.6" y="235.14999999999998" font-size="9" text-anchor="end" fill="#222" stroke="#222" stroke-width="0.15" textLength="22.5" lengthAdjust="spacingAndGlyphs">10000</text><line x1="287.6" y1="266.6" x2="290.6" y2="266.6" stroke="#111" stroke-width="1.1"/><text x="284.6" y="269.55" font-size="9" text-anchor="end" fill="#222" stroke="#222" stroke-width="0.15" textLength="18.2" lengthAdjust="spacingAndGlyphs">5000</text><line x1="287.6" y1="301" x2="290.6" y2="301" stroke="#111" stroke-width="1.1"/><text x="284.6" y="303.95" font-size="9" text-anchor="end" fill="#222" stroke="#222" stroke-width="0.15">0</text><line x1="291" y1="301.2" x2="291" y2="304.2" stroke="#111" stroke-width="1.1"/><text x="291" y="316.8" font-size="8.7" text-anchor="middle" fill="#222" stroke="#222" stroke-width="0.15">0</text><line x1="342.4" y1="301.2" x2="342.4" y2="304.2" stroke="#111" stroke-width="1.1"/><text x="342.4" y="316.8" font-size="8.7" text-anchor="middle" fill="#222" stroke="#222" stroke-width="0.15" textLength="22.6" lengthAdjust="spacingAndGlyphs">10000</text><line x1="393.7" y1="301.2" x2="393.7" y2="304.2" stroke="#111" stroke-width="1.1"/><text x="393.7" y="316.8" font-size="8.7" text-anchor="middle" fill="#222" stroke="#222" stroke-width="0.15" textLength="22.6" lengthAdjust="spacingAndGlyphs">20000</text><line x1="445" y1="301.2" x2="445" y2="304.2" stroke="#111" stroke-width="1.1"/><text x="445" y="316.8" font-size="8.7" text-anchor="middle" fill="#222" stroke="#222" stroke-width="0.15" textLength="22.6" lengthAdjust="spacingAndGlyphs">30000</text><line x1="309.4" y1="298.2" x2="417" y2="261.5" stroke="#ef8f14" stroke-width="1.3"/><circle cx="308.4" cy="293.4" r="2.2" fill="#ef8f14"/><circle cx="319.8" cy="289.2" r="2.2" fill="#ef8f14"/><circle cx="324.3" cy="286.1" r="2.2" fill="#ef8f14"/><circle cx="327.1" cy="296.5" r="2.2" fill="#ef8f14"/><circle cx="333.7" cy="293.4" r="2.2" fill="#ef8f14"/><circle cx="337.1" cy="292" r="2.2" fill="#ef8f14"/><circle cx="368.3" cy="292.7" r="2.2" fill="#ef8f14"/><circle cx="375.2" cy="273.6" r="2.2" fill="#ef8f14"/><circle cx="396.7" cy="284.4" r="2.2" fill="#ef8f14"/><circle cx="410.8" cy="233.8" r="2.2" fill="#ef8f14"/><circle cx="417" cy="269.2" r="2.2" fill="#ef8f14"/><text x="300.6" y="211.2" font-size="8.6" fill="#222" stroke="#222" stroke-width="0.15" textLength="34.6" lengthAdjust="spacingAndGlyphs">P = 0.011</text><text x="300.6" y="220.64999999999998" font-size="8.6" fill="#222" stroke="#222" stroke-width="0.15" textLength="28.2" lengthAdjust="spacingAndGlyphs">r = 0.73</text><text x="300.6" y="230.1" font-size="8.6" fill="#222" stroke="#222" stroke-width="0.15" textLength="24" lengthAdjust="spacingAndGlyphs">N = 11</text><text x="254.2" y="266.3" font-size="10.1" fill="#222" stroke="#222" stroke-width="0.15" textLength="36.9" lengthAdjust="spacingAndGlyphs" transform="rotate(-90 254.2 266.3)">eTLR9 MFI</text><text x="349.5" y="329.1" font-size="10.6" fill="#222" stroke="#222" stroke-width="0.15" textLength="40.7" lengthAdjust="spacingAndGlyphs">CD49d MFI</text><text x="8.1" y="352.3" font-size="12.4" fill="#111" stroke="#111" stroke-width="0.5" font-weight="bold" textLength="8.1" lengthAdjust="spacingAndGlyphs">C</text><rect x="18.8" y="352" width="2.0" height="2.0" rx="0.6" fill="#111"/><rect x="18.8" y="354.9" width="2.0" height="4.800000000000011" rx="0.5" fill="#111"/><rect x="36.5" y="360.2" width="139.8" height="126.90000000000003" fill="none" stroke="#2a2a2a" stroke-width="1.3"/><text x="55.6" y="371.5" font-size="10.4" fill="#1a1a1a" stroke="#1a1a1a" stroke-width="0.15" textLength="116.3" lengthAdjust="spacingAndGlyphs">Specimen_001-Tube_027</text><path d="M72 431h1v1h-1zM74 431h2v1h-2zM72 432h3v1h-3zM78 434h1v1h-1zM76 435h1v1h-1zM78 435h1v1h-1zM79 436h1v1h-1zM79 437h1v1h-1zM79 438h1v1h-1zM80 439h1v1h-1zM80 440h1v1h-1zM80 441h1v1h-1zM79 442h2v1h-2zM79 446h2v1h-2zM79 448h1v1h-1zM78 450h1v1h-1zM78 452h1v1h-1zM72 453h1v1h-1zM76 453h1v1h-1z" fill="#f000f0" fill-opacity="0.2"/><path d="M73 431h1v1h-1zM75 432h2v1h-2zM72 433h1v1h-1zM75 433h3v1h-3zM72 434h1v1h-1zM74 434h4v1h-4zM72 435h1v1h-1zM77 436h1v1h-1zM78 437h1v1h-1zM78 438h1v1h-1zM78 439h1v1h-1zM78 443h1v1h-1zM80 443h1v1h-1zM79 444h2v1h-2zM79 445h2v1h-2zM80 447h1v1h-1zM77 448h1v1h-1zM78 449h2v1h-2zM77 450h1v1h-1zM79 450h1v1h-1zM78 451h1v1h-1zM73 452h1v1h-1zM76 452h1v1h-1zM73 453h2v1h-2zM77 453h1v1h-1z" fill="#f000f0" fill-opacity="0.4"/><path d="M73 433h2v1h-2zM73 435h2v1h-2zM77 435h1v1h-1zM73 436h1v1h-1zM76 436h1v1h-1zM78 436h1v1h-1zM76 437h1v1h-1zM75 438h1v1h-1zM73 439h1v1h-1zM79 439h1v1h-1zM79 440h1v1h-1zM79 441h1v1h-1zM78 442h1v1h-1zM79 443h1v1h-1zM77 444h1v1h-1zM78 445h1v1h-1zM79 447h1v1h-1zM78 448h1v1h-1zM73 450h1v1h-1zM77 451h1v1h-1zM74 452h2v1h-2zM77 452h1v1h-1zM75 453h1v1h-1z" fill="#f000f0" fill-opacity="0.6"/><path d="M73 434h1v1h-1zM75 435h1v1h-1zM77 438h1v1h-1zM78 440h1v1h-1zM78 441h1v1h-1zM78 444h1v1h-1zM78 446h1v1h-1zM77 449h1v1h-1zM76 450h1v1h-1zM73 451h1v1h-1zM75 451h2v1h-2zM72 452h1v1h-1z" fill="#f000f0" fill-opacity="0.8"/><path d="M72 436h1v1h-1zM74 436h2v1h-2zM72 437h4v1h-4zM77 437h1v1h-1zM72 438h3v1h-3zM76 438h1v1h-1zM72 439h1v1h-1zM74 439h4v1h-4zM72 440h6v1h-6zM72 441h6v1h-6zM72 442h6v1h-6zM72 443h6v1h-6zM72 444h5v1h-5zM72 445h6v1h-6zM72 446h6v1h-6zM72 447h7v1h-7zM72 448h5v1h-5zM72 449h5v1h-5zM72 450h1v1h-1zM74 450h2v1h-2zM72 451h1v1h-1zM74 451h1v1h-1z" fill="#f000f0" fill-opacity="1.0"/><path d="M98 442h1v1h-1zM98 445h1v1h-1zM80 431h1v1h-1zM85 433h1v1h-1zM89 441h1v1h-1zM95 426h1v1h-1zM73 444h1v1h-1zM88 446h1v1h-1zM105 428h1v1h-1zM88 445h1v1h-1zM90 441h1v1h-1zM88 448h1v1h-1zM78 443h1v1h-1zM97 440h1v1h-1zM91 442h1v1h-1zM90 446h1v1h-1zM95 442h1v1h-1zM95 442h1v1h-1zM93 444h1v1h-1zM83 442h1v1h-1zM90 450h1v1h-1zM82 442h1v1h-1zM81 441h1v1h-1zM97 439h1v1h-1zM88 445h1v1h-1zM86 441h1v1h-1zM86 438h1v1h-1zM89 449h1v1h-1zM88 450h1v1h-1zM81 437h1v1h-1zM86 447h1v1h-1zM95 438h1v1h-1zM80 441h1v1h-1zM106 446h1v1h-1zM89 436h1v1h-1zM93 442h1v1h-1zM84 447h1v1h-1zM83 444h1v1h-1zM102 439h1v1h-1zM88 445h1v1h-1zM99 441h1v1h-1zM104 439h1v1h-1zM75 440h1v1h-1zM87 448h1v1h-1zM89 438h1v1h-1zM105 442h1v1h-1zM111 438h1v1h-1zM88 447h1v1h-1zM92 441h1v1h-1zM97 446h1v1h-1zM99 444h1v1h-1zM86 439h1v1h-1zM97 445h1v1h-1zM83 446h1v1h-1zM76 445h1v1h-1zM117 449h1v1h-1zM119 433h1v1h-1zM86 439h1v1h-1zM93 432h1v1h-1zM101 447h1v1h-1zM85 449h1v1h-1zM110 436h1v1h-1zM101 448h1v1h-1zM100 451h1v1h-1zM90 435h1v1h-1zM87 451h1v1h-1zM118 437h1v1h-1zM107 446h1v1h-1zM97 442h1v1h-1zM74 428h1v1h-1zM78 431h1v1h-1zM76 421h1v1h-1zM76 424h1v1h-1zM80 424h1v1h-1zM75 427h1v1h-1zM76 431h1v1h-1zM78 425h1v1h-1zM80 425h1v1h-1zM76 429h1v1h-1zM77 420h1v1h-1zM77 422h1v1h-1z" fill="#f000f0" fill-opacity="0.35"/><path d="M116 427h1v1h-1zM118 424h1v1h-1zM119 436h1v1h-1zM116 427h1v1h-1zM126 428h1v1h-1zM115 427h1v1h-1zM117 428h1v1h-1zM123 430h1v1h-1zM121 432h1v1h-1zM118 426h1v1h-1zM120 431h1v1h-1zM122 427h1v1h-1zM118 434h1v1h-1zM121 425h1v1h-1zM114 430h1v1h-1zM118 432h1v1h-1zM111 425h1v1h-1zM114 430h1v1h-1zM113 430h1v1h-1zM123 427h1v1h-1zM116 429h1v1h-1zM119 433h1v1h-1zM114 431h1v1h-1zM117 428h1v1h-1zM117 429h1v1h-1zM114 431h1v1h-1zM122 434h1v1h-1zM111 432h1v1h-1zM121 432h1v1h-1zM129 435h1v1h-1zM115 424h1v1h-1zM118 424h1v1h-1zM111 421h1v1h-1zM118 433h1v1h-1zM111 421h1v1h-1zM121 429h1v1h-1zM116 432h1v1h-1zM110 424h1v1h-1zM112 427h1v1h-1zM111 429h1v1h-1zM117 432h1v1h-1zM122 424h1v1h-1zM116 431h1v1h-1zM113 432h1v1h-1zM114 430h1v1h-1zM118 430h1v1h-1zM107 434h1v1h-1zM120 430h1v1h-1zM120 429h1v1h-1zM107 428h1v1h-1zM123 432h1v1h-1zM111 428h1v1h-1zM117 432h1v1h-1zM123 430h1v1h-1zM111 434h1v1h-1zM110 427h1v1h-1zM113 430h1v1h-1zM113 431h1v1h-1zM117 431h1v1h-1zM115 434h1v1h-1zM116 431h1v1h-1zM116 433h1v1h-1zM117 437h1v1h-1zM114 433h1v1h-1zM119 426h1v1h-1zM118 424h1v1h-1zM113 432h1v1h-1zM125 428h1v1h-1zM112 431h1v1h-1zM121 429h1v1h-1zM114 434h1v1h-1zM119 434h1v1h-1zM120 425h1v1h-1zM121 431h1v1h-1zM124 428h1v1h-1zM114 425h1v1h-1zM130 432h1v1h-1zM119 429h1v1h-1zM114 431h1v1h-1zM112 438h1v1h-1zM128 434h1v1h-1zM125 433h1v1h-1zM118 428h1v1h-1zM121 425h1v1h-1zM123 434h1v1h-1zM118 428h1v1h-1zM116 430h1v1h-1zM118 428h1v1h-1zM121 430h1v1h-1zM118 438h1v1h-1zM113 428h1v1h-1zM121 428h1v1h-1zM110 430h1v1h-1zM115 431h1v1h-1zM123 425h1v1h-1zM119 423h1v1h-1zM119 427h1v1h-1zM118 429h1v1h-1zM122 427h1v1h-1zM118 426h1v1h-1zM109 426h1v1h-1zM119 428h1v1h-1zM105 429h1v1h-1zM109 424h1v1h-1zM125 427h1v1h-1zM122 431h1v1h-1zM116 429h1v1h-1zM117 425h1v1h-1zM118 428h1v1h-1zM122 429h1v1h-1zM114 432h1v1h-1zM114 424h1v1h-1zM115 432h1v1h-1zM118 428h1v1h-1zM119 430h1v1h-1zM116 432h1v1h-1zM121 426h1v1h-1zM113 426h1v1h-1zM117 429h1v1h-1zM115 432h1v1h-1zM113 427h1v1h-1zM123 424h1v1h-1zM116 427h1v1h-1zM113 431h1v1h-1zM118 434h1v1h-1zM113 428h1v1h-1zM120 428h1v1h-1zM121 429h1v1h-1zM122 429h1v1h-1zM113 426h1v1h-1zM117 428h1v1h-1zM126 430h1v1h-1zM117 430h1v1h-1zM123 429h1v1h-1zM124 426h1v1h-1zM112 427h1v1h-1zM123 427h1v1h-1zM121 433h1v1h-1zM122 435h1v1h-1zM125 431h1v1h-1zM120 435h1v1h-1zM118 428h1v1h-1zM120 428h1v1h-1zM116 425h1v1h-1zM120 430h1v1h-1zM109 428h1v1h-1zM125 430h1v1h-1zM116 431h1v1h-1zM120 428h1v1h-1zM119 425h1v1h-1zM118 429h1v1h-1zM118 429h1v1h-1zM118 429h1v1h-1zM111 432h1v1h-1zM115 429h1v1h-1zM123 428h1v1h-1zM113 436h1v1h-1zM113 433h1v1h-1zM127 429h1v1h-1zM123 426h1v1h-1zM125 428h1v1h-1zM118 431h1v1h-1zM119 432h1v1h-1zM121 438h1v1h-1zM120 429h1v1h-1zM117 430h1v1h-1zM112 428h1v1h-1zM115 430h1v1h-1zM111 428h1v1h-1zM125 426h1v1h-1zM116 433h1v1h-1zM117 430h1v1h-1zM119 434h1v1h-1zM118 428h1v1h-1zM120 430h1v1h-1z" fill="#23944a" fill-opacity="0.55"/><rect x="71.8" y="377.6" width="88.89999999999999" height="75.79999999999995" fill="none" stroke="#8a8a8a" stroke-width="0.8"/><line x1="82.5" y1="377.6" x2="82.5" y2="453.4" stroke="#5a5a5a" stroke-width="1.15"/><line x1="71.8" y1="436.5" x2="160.7" y2="436.5" stroke="#4a4a4a" stroke-width="1.0"/><text x="77.2" y="427" font-size="5.2" text-anchor="middle" fill="#444">Q1</text><text x="94.8" y="427" font-size="5.2" text-anchor="middle" fill="#444">Q2</text><text x="77.2" y="447.2" font-size="5.2" text-anchor="middle" fill="#444">Q3</text><text x="94.8" y="447.2" font-size="5.2" text-anchor="middle" fill="#444">Q4</text><text x="53" y="389.1" font-size="8.5" fill="#222" stroke="#222" stroke-width="0.15">10<tspan dy="-3.57" font-size="6.30">5</tspan></text><text x="53" y="406.3" font-size="8.5" fill="#222" stroke="#222" stroke-width="0.15">10<tspan dy="-3.57" font-size="6.30">4</tspan></text><text x="53" y="423.6" font-size="8.5" fill="#222" stroke="#222" stroke-width="0.15">10<tspan dy="-3.57" font-size="6.30">3</tspan></text><text x="53" y="440.6" font-size="8.5" fill="#222" stroke="#222" stroke-width="0.15">10<tspan dy="-3.57" font-size="6.30">2</tspan></text><line x1="68.2" y1="403.2" x2="71.8" y2="403.2" stroke="#333" stroke-width="0.75"/><line x1="69.8" y1="398.0" x2="71.8" y2="398.0" stroke="#777" stroke-width="0.6"/><line x1="69.8" y1="395.0" x2="71.8" y2="395.0" stroke="#777" stroke-width="0.6"/><line x1="69.8" y1="392.8" x2="71.8" y2="392.8" stroke="#777" stroke-width="0.6"/><line x1="69.8" y1="391.2" x2="71.8" y2="391.2" stroke="#777" stroke-width="0.6"/><line x1="69.8" y1="389.8" x2="71.8" y2="389.8" stroke="#777" stroke-width="0.6"/><line x1="69.8" y1="388.7" x2="71.8" y2="388.7" stroke="#777" stroke-width="0.6"/><line x1="69.8" y1="387.7" x2="71.8" y2="387.7" stroke="#777" stroke-width="0.6"/><line x1="69.8" y1="386.8" x2="71.8" y2="386.8" stroke="#777" stroke-width="0.6"/><line x1="68.2" y1="420.5" x2="71.8" y2="420.5" stroke="#333" stroke-width="0.75"/><line x1="69.8" y1="415.3" x2="71.8" y2="415.3" stroke="#777" stroke-width="0.6"/><line x1="69.8" y1="412.2" x2="71.8" y2="412.2" stroke="#777" stroke-width="0.6"/><line x1="69.8" y1="410.1" x2="71.8" y2="410.1" stroke="#777" stroke-width="0.6"/><line x1="69.8" y1="408.4" x2="71.8" y2="408.4" stroke="#777" stroke-width="0.6"/><line x1="69.8" y1="407.0" x2="71.8" y2="407.0" stroke="#777" stroke-width="0.6"/><line x1="69.8" y1="405.9" x2="71.8" y2="405.9" stroke="#777" stroke-width="0.6"/><line x1="69.8" y1="404.9" x2="71.8" y2="404.9" stroke="#777" stroke-width="0.6"/><line x1="69.8" y1="404.0" x2="71.8" y2="404.0" stroke="#777" stroke-width="0.6"/><line x1="68.2" y1="437.5" x2="71.8" y2="437.5" stroke="#333" stroke-width="0.75"/><line x1="69.8" y1="432.4" x2="71.8" y2="432.4" stroke="#777" stroke-width="0.6"/><line x1="69.8" y1="429.4" x2="71.8" y2="429.4" stroke="#777" stroke-width="0.6"/><line x1="69.8" y1="427.3" x2="71.8" y2="427.3" stroke="#777" stroke-width="0.6"/><line x1="69.8" y1="425.6" x2="71.8" y2="425.6" stroke="#777" stroke-width="0.6"/><line x1="69.8" y1="424.3" x2="71.8" y2="424.3" stroke="#777" stroke-width="0.6"/><line x1="69.8" y1="423.1" x2="71.8" y2="423.1" stroke="#777" stroke-width="0.6"/><line x1="69.8" y1="422.1" x2="71.8" y2="422.1" stroke="#777" stroke-width="0.6"/><line x1="69.8" y1="421.3" x2="71.8" y2="421.3" stroke="#777" stroke-width="0.6"/><line x1="68.2" y1="437.5" x2="71.8" y2="437.5" stroke="#333" stroke-width="0.75"/><line x1="74.1" y1="453.4" x2="74.1" y2="455.4" stroke="#777" stroke-width="0.6"/><line x1="76.8" y1="453.4" x2="76.8" y2="455.4" stroke="#777" stroke-width="0.6"/><line x1="78.9" y1="453.4" x2="78.9" y2="455.4" stroke="#777" stroke-width="0.6"/><line x1="80.6" y1="453.4" x2="80.6" y2="455.4" stroke="#777" stroke-width="0.6"/><line x1="82.1" y1="453.4" x2="82.1" y2="455.4" stroke="#777" stroke-width="0.6"/><line x1="83.3" y1="453.4" x2="83.3" y2="455.4" stroke="#777" stroke-width="0.6"/><line x1="84.4" y1="453.4" x2="84.4" y2="455.4" stroke="#777" stroke-width="0.6"/><line x1="85.4" y1="453.4" x2="85.4" y2="457.0" stroke="#333" stroke-width="0.75"/><line x1="91.9" y1="453.4" x2="91.9" y2="455.4" stroke="#777" stroke-width="0.6"/><line x1="95.7" y1="453.4" x2="95.7" y2="455.4" stroke="#777" stroke-width="0.6"/><line x1="98.4" y1="453.4" x2="98.4" y2="455.4" stroke="#777" stroke-width="0.6"/><line x1="100.5" y1="453.4" x2="100.5" y2="455.4" stroke="#777" stroke-width="0.6"/><line x1="102.2" y1="453.4" x2="102.2" y2="455.4" stroke="#777" stroke-width="0.6"/><line x1="103.7" y1="453.4" x2="103.7" y2="455.4" stroke="#777" stroke-width="0.6"/><line x1="104.9" y1="453.4" x2="104.9" y2="455.4" stroke="#777" stroke-width="0.6"/><line x1="106.0" y1="453.4" x2="106.0" y2="455.4" stroke="#777" stroke-width="0.6"/><line x1="107.0" y1="453.4" x2="107.0" y2="457.0" stroke="#333" stroke-width="0.75"/><line x1="113.5" y1="453.4" x2="113.5" y2="455.4" stroke="#777" stroke-width="0.6"/><line x1="117.3" y1="453.4" x2="117.3" y2="455.4" stroke="#777" stroke-width="0.6"/><line x1="120.0" y1="453.4" x2="120.0" y2="455.4" stroke="#777" stroke-width="0.6"/><line x1="122.1" y1="453.4" x2="122.1" y2="455.4" stroke="#777" stroke-width="0.6"/><line x1="123.8" y1="453.4" x2="123.8" y2="455.4" stroke="#777" stroke-width="0.6"/><line x1="125.3" y1="453.4" x2="125.3" y2="455.4" stroke="#777" stroke-width="0.6"/><line x1="126.5" y1="453.4" x2="126.5" y2="455.4" stroke="#777" stroke-width="0.6"/><line x1="127.6" y1="453.4" x2="127.6" y2="455.4" stroke="#777" stroke-width="0.6"/><line x1="128.6" y1="453.4" x2="128.6" y2="457.0" stroke="#333" stroke-width="0.75"/><line x1="135.1" y1="453.4" x2="135.1" y2="455.4" stroke="#777" stroke-width="0.6"/><line x1="138.9" y1="453.4" x2="138.9" y2="455.4" stroke="#777" stroke-width="0.6"/><line x1="141.6" y1="453.4" x2="141.6" y2="455.4" stroke="#777" stroke-width="0.6"/><line x1="143.7" y1="453.4" x2="143.7" y2="455.4" stroke="#777" stroke-width="0.6"/><line x1="145.4" y1="453.4" x2="145.4" y2="455.4" stroke="#777" stroke-width="0.6"/><line x1="146.9" y1="453.4" x2="146.9" y2="455.4" stroke="#777" stroke-width="0.6"/><line x1="148.1" y1="453.4" x2="148.1" y2="455.4" stroke="#777" stroke-width="0.6"/><line x1="149.2" y1="453.4" x2="149.2" y2="455.4" stroke="#777" stroke-width="0.6"/><line x1="151" y1="453.4" x2="151" y2="457.0" stroke="#333" stroke-width="0.75"/><text x="79.80000000000001" y="468.2" font-size="8.5" fill="#222" stroke="#222" stroke-width="0.15">10<tspan dy="-3.57" font-size="6.30">2</tspan></text><text x="101.4" y="468.2" font-size="8.5" fill="#222" stroke="#222" stroke-width="0.15">10<tspan dy="-3.57" font-size="6.30">3</tspan></text><text x="123.0" y="468.2" font-size="8.5" fill="#222" stroke="#222" stroke-width="0.15">10<tspan dy="-3.57" font-size="6.30">4</tspan></text><text x="145.4" y="468.2" font-size="8.5" fill="#222" stroke="#222" stroke-width="0.15">10<tspan dy="-3.57" font-size="6.30">5</tspan></text><text x="114.6" y="481.5" font-size="10.2" text-anchor="middle" fill="#222" stroke="#222" stroke-width="0.15" textLength="26.8" lengthAdjust="spacingAndGlyphs">R670-A</text><text x="47.9" y="417.7" font-size="9.7" text-anchor="middle" fill="#222" stroke="#222" stroke-width="0.15" textLength="32.3" lengthAdjust="spacingAndGlyphs" transform="rotate(-90 47.9 417.7)">YG586-A</text><text x="77.7" y="499.8" font-size="10.3" fill="#222" stroke="#222" stroke-width="0.15" textLength="19.5" lengthAdjust="spacingAndGlyphs">CD38</text><line x1="100.8" y1="496.3" x2="154.2" y2="496.3" stroke="#111" stroke-width="1.4"/><path d="M161 496.3L153.2 492.8L154.1 496.3L153.2 499.8Z" fill="#111"/><text x="64.5" y="447" font-size="8.5" text-anchor="middle" fill="#222" stroke="#222" stroke-width="0.25">0</text><text x="70.3" y="456.2" font-size="8.5" text-anchor="end" fill="#222" stroke="#222" stroke-width="0.25" textLength="16.5" lengthAdjust="spacingAndGlyphs">-187</text><text x="30.2" y="455.3" font-size="11.2" fill="#222" stroke="#222" stroke-width="0.15" textLength="25.3" lengthAdjust="spacingAndGlyphs" transform="rotate(-90 30.2 455.3)">pSTAT3</text><line x1="27.2" y1="426.4" x2="27.2" y2="372.8" stroke="#111" stroke-width="1.4"/><path d="M27.2 366L23.7 373.8L27.2 372.90000000000003L30.7 373.8Z" fill="#111"/><rect x="186.1" y="360.2" width="140.1" height="126.90000000000003" fill="none" stroke="#2a2a2a" stroke-width="1.3"/><text x="201.7" y="370.4" font-size="10.4" fill="#1a1a1a" stroke="#1a1a1a" stroke-width="0.15" textLength="116.3" lengthAdjust="spacingAndGlyphs">Specimen_001-Tube_027</text><path d="M238 434h1v1h-1zM242 434h1v1h-1zM240 437h1v1h-1zM241 438h1v1h-1zM242 451h1v1h-1zM242 452h1v1h-1z" fill="#f000f0" fill-opacity="0.2"/><path d="M226 434h6v1h-6zM233 434h1v1h-1zM235 434h3v1h-3zM239 434h3v1h-3zM226 435h1v1h-1zM228 435h2v1h-2zM231 435h1v1h-1zM233 435h2v1h-2zM238 435h1v1h-1zM241 435h2v1h-2zM227 436h4v1h-4zM233 436h1v1h-1zM236 436h1v1h-1zM241 436h1v1h-1zM230 437h1v1h-1zM238 437h1v1h-1zM226 438h2v1h-2zM230 438h1v1h-1zM237 438h1v1h-1zM240 438h1v1h-1zM242 438h1v1h-1zM226 439h1v1h-1zM228 439h1v1h-1zM237 439h2v1h-2zM242 439h1v1h-1zM226 440h1v1h-1zM242 440h1v1h-1zM240 441h3v1h-3zM240 442h1v1h-1zM240 443h2v1h-2zM241 444h1v1h-1zM242 445h1v1h-1zM242 446h1v1h-1zM239 447h1v1h-1zM240 448h2v1h-2zM226 449h2v1h-2zM241 449h1v1h-1zM226 450h1v1h-1zM237 450h1v1h-1zM239 450h2v1h-2zM228 451h1v1h-1zM231 451h1v1h-1zM234 451h1v1h-1zM240 451h2v1h-2zM226 452h2v1h-2zM233 452h1v1h-1zM236 452h1v1h-1zM239 452h1v1h-1zM241 452h1v1h-1zM241 453h2v1h-2z" fill="#f000f0" fill-opacity="0.4"/><path d="M234 434h1v1h-1zM235 435h3v1h-3zM239 435h2v1h-2zM232 436h1v1h-1zM234 436h2v1h-2zM237 436h1v1h-1zM239 436h1v1h-1zM242 436h1v1h-1zM226 437h2v1h-2zM229 437h1v1h-1zM233 437h3v1h-3zM237 437h1v1h-1zM241 437h2v1h-2zM231 438h1v1h-1zM234 438h1v1h-1zM236 438h1v1h-1zM227 439h1v1h-1zM236 439h1v1h-1zM238 440h2v1h-2zM226 441h1v1h-1zM228 441h1v1h-1zM232 441h1v1h-1zM226 442h1v1h-1zM237 442h1v1h-1zM241 442h2v1h-2zM234 443h1v1h-1zM242 443h1v1h-1zM227 444h1v1h-1zM242 444h1v1h-1zM240 445h2v1h-2zM226 446h1v1h-1zM241 447h1v1h-1zM233 448h1v1h-1zM235 448h1v1h-1zM233 449h1v1h-1zM236 449h1v1h-1zM239 449h1v1h-1zM238 450h1v1h-1zM242 450h1v1h-1zM226 451h1v1h-1zM229 452h2v1h-2zM235 452h1v1h-1zM237 452h1v1h-1zM240 452h1v1h-1zM229 453h2v1h-2zM233 453h3v1h-3zM239 453h2v1h-2z" fill="#f000f0" fill-opacity="0.6"/><path d="M232 434h1v1h-1zM227 435h1v1h-1zM230 435h1v1h-1zM226 436h1v1h-1zM231 436h1v1h-1zM238 436h1v1h-1zM240 436h1v1h-1zM228 437h1v1h-1zM231 437h1v1h-1zM236 437h1v1h-1zM239 437h1v1h-1zM228 438h2v1h-2zM239 438h1v1h-1zM239 439h1v1h-1zM241 439h1v1h-1zM240 440h2v1h-2zM239 441h1v1h-1zM239 442h1v1h-1zM240 444h1v1h-1zM239 446h3v1h-3zM226 447h1v1h-1zM240 447h1v1h-1zM242 447h1v1h-1zM242 448h1v1h-1zM238 449h1v1h-1zM240 449h1v1h-1zM242 449h1v1h-1zM241 450h1v1h-1zM227 451h1v1h-1zM229 451h1v1h-1zM236 451h4v1h-4zM228 452h1v1h-1zM231 452h1v1h-1zM234 452h1v1h-1zM238 452h1v1h-1zM226 453h3v1h-3zM231 453h1v1h-1zM236 453h3v1h-3z" fill="#f000f0" fill-opacity="0.8"/><path d="M232 435h1v1h-1zM232 437h1v1h-1zM232 438h2v1h-2zM235 438h1v1h-1zM238 438h1v1h-1zM229 439h7v1h-7zM240 439h1v1h-1zM227 440h11v1h-11zM227 441h1v1h-1zM229 441h3v1h-3zM233 441h6v1h-6zM227 442h10v1h-10zM238 442h1v1h-1zM226 443h8v1h-8zM235 443h5v1h-5zM226 444h1v1h-1zM228 444h12v1h-12zM226 445h14v1h-14zM227 446h12v1h-12zM227 447h12v1h-12zM226 448h7v1h-7zM234 448h1v1h-1zM236 448h4v1h-4zM228 449h5v1h-5zM234 449h2v1h-2zM237 449h1v1h-1zM227 450h10v1h-10zM230 451h1v1h-1zM232 451h2v1h-2zM235 451h1v1h-1zM232 452h1v1h-1zM232 453h1v1h-1z" fill="#f000f0" fill-opacity="1.0"/><path d="M238 440h1v1h-1zM242 439h1v1h-1zM234 436h1v1h-1zM234 446h1v1h-1zM242 445h1v1h-1zM238 448h1v1h-1zM238 434h1v1h-1zM231 443h1v1h-1zM231 443h1v1h-1zM235 451h1v1h-1zM244 442h1v1h-1zM242 436h1v1h-1zM235 442h1v1h-1zM242 439h1v1h-1zM254 451h1v1h-1zM241 446h1v1h-1zM256 444h1v1h-1zM243 443h1v1h-1zM251 447h1v1h-1zM236 439h1v1h-1zM249 436h1v1h-1zM231 431h1v1h-1zM242 449h1v1h-1zM237 445h1v1h-1zM229 442h1v1h-1zM249 452h1v1h-1zM244 436h1v1h-1zM250 449h1v1h-1zM242 437h1v1h-1zM242 435h1v1h-1zM235 442h1v1h-1zM236 440h1v1h-1zM236 444h1v1h-1zM234 438h1v1h-1zM232 434h1v1h-1zM250 445h1v1h-1zM244 450h1v1h-1zM235 446h1v1h-1zM237 442h1v1h-1zM248 444h1v1h-1zM243 432h1v1h-1zM242 440h1v1h-1zM230 449h1v1h-1zM236 445h1v1h-1zM231 437h1v1h-1zM247 441h1v1h-1zM257 439h1v1h-1zM249 440h1v1h-1zM243 441h1v1h-1zM249 446h1v1h-1zM246 447h1v1h-1zM255 451h1v1h-1zM256 439h1v1h-1zM254 445h1v1h-1zM253 447h1v1h-1zM251 444h1v1h-1zM243 439h1v1h-1zM252 439h1v1h-1zM248 438h1v1h-1zM247 442h1v1h-1zM251 440h1v1h-1zM246 451h1v1h-1zM258 447h1v1h-1zM252 439h1v1h-1zM254 447h1v1h-1zM244 445h1v1h-1z" fill="#f000f0" fill-opacity="0.4"/><path d="M249 428h1v1h-1zM250 437h1v1h-1zM261 434h1v1h-1zM245 435h1v1h-1zM256 432h1v1h-1zM254 432h1v1h-1zM262 432h1v1h-1zM258 437h1v1h-1zM251 433h1v1h-1zM262 432h1v1h-1zM253 429h1v1h-1zM265 434h1v1h-1zM263 433h1v1h-1zM255 433h1v1h-1zM259 436h1v1h-1zM256 435h1v1h-1zM251 433h1v1h-1zM261 433h1v1h-1zM258 433h1v1h-1zM260 435h1v1h-1zM261 435h1v1h-1zM262 433h1v1h-1zM260 430h1v1h-1zM255 435h1v1h-1zM256 435h1v1h-1zM258 429h1v1h-1zM255 434h1v1h-1zM254 431h1v1h-1zM264 426h1v1h-1zM258 432h1v1h-1zM265 435h1v1h-1zM252 430h1v1h-1zM255 430h1v1h-1zM254 436h1v1h-1zM254 429h1v1h-1zM254 430h1v1h-1zM255 432h1v1h-1zM254 434h1v1h-1zM264 434h1v1h-1zM259 431h1v1h-1zM252 432h1v1h-1zM253 433h1v1h-1zM259 431h1v1h-1zM258 430h1v1h-1zM253 429h1v1h-1zM260 435h1v1h-1zM249 432h1v1h-1zM253 441h1v1h-1zM264 434h1v1h-1zM243 430h1v1h-1zM255 433h1v1h-1zM260 434h1v1h-1zM255 434h1v1h-1zM252 434h1v1h-1zM251 434h1v1h-1zM246 432h1v1h-1zM249 435h1v1h-1zM256 439h1v1h-1zM253 431h1v1h-1zM256 431h1v1h-1zM255 435h1v1h-1zM257 436h1v1h-1zM248 435h1v1h-1zM254 436h1v1h-1zM254 432h1v1h-1zM254 432h1v1h-1zM251 435h1v1h-1zM245 435h1v1h-1zM259 438h1v1h-1zM259 437h1v1h-1zM267 427h1v1h-1zM259 435h1v1h-1zM263 431h1v1h-1zM258 426h1v1h-1zM254 434h1v1h-1zM258 432h1v1h-1zM250 432h1v1h-1zM257 429h1v1h-1zM255 430h1v1h-1zM251 432h1v1h-1zM261 428h1v1h-1zM261 432h1v1h-1zM258 433h1v1h-1zM259 432h1v1h-1zM263 433h1v1h-1zM255 432h1v1h-1zM249 429h1v1h-1zM251 429h1v1h-1zM259 433h1v1h-1zM257 435h1v1h-1zM249 433h1v1h-1zM262 431h1v1h-1zM257 433h1v1h-1zM263 427h1v1h-1zM261 430h1v1h-1zM254 431h1v1h-1zM256 432h1v1h-1zM252 432h1v1h-1zM252 432h1v1h-1zM254 429h1v1h-1zM258 431h1v1h-1zM262 433h1v1h-1zM251 427h1v1h-1zM259 429h1v1h-1zM256 431h1v1h-1zM255 437h1v1h-1zM261 435h1v1h-1zM254 437h1v1h-1zM262 437h1v1h-1zM254 431h1v1h-1zM251 432h1v1h-1zM259 429h1v1h-1zM249 436h1v1h-1zM250 435h1v1h-1zM255 434h1v1h-1zM256 434h1v1h-1zM254 434h1v1h-1zM246 433h1v1h-1zM249 433h1v1h-1zM258 436h1v1h-1zM258 430h1v1h-1zM251 429h1v1h-1zM257 433h1v1h-1zM257 436h1v1h-1zM261 433h1v1h-1zM252 432h1v1h-1zM263 435h1v1h-1zM254 433h1v1h-1zM263 427h1v1h-1zM260 429h1v1h-1zM251 426h1v1h-1zM254 432h1v1h-1zM257 431h1v1h-1zM261 434h1v1h-1zM249 439h1v1h-1zM253 431h1v1h-1zM259 433h1v1h-1zM258 431h1v1h-1zM251 424h1v1h-1zM251 430h1v1h-1zM258 430h1v1h-1zM251 433h1v1h-1zM257 430h1v1h-1zM260 429h1v1h-1zM256 434h1v1h-1zM243 432h1v1h-1zM261 430h1v1h-1zM261 430h1v1h-1zM263 432h1v1h-1zM260 435h1v1h-1z" fill="#23944a" fill-opacity="0.55"/><rect x="225.6" y="376.3" width="88.9" height="76.69999999999999" fill="none" stroke="#8a8a8a" stroke-width="0.8"/><line x1="241.5" y1="376.3" x2="241.5" y2="453" stroke="#5a5a5a" stroke-width="1.15"/><line x1="225.6" y1="437.5" x2="314.5" y2="437.5" stroke="#4a4a4a" stroke-width="1.0"/><text x="234.4" y="427.7" font-size="5.2" text-anchor="middle" fill="#444">Q1-2</text><text x="256.5" y="427.7" font-size="5.2" text-anchor="middle" fill="#444">Q2-2</text><text x="233.8" y="449.8" font-size="5.2" text-anchor="middle" fill="#444">Q3-2</text><text x="256.5" y="449.8" font-size="5.2" text-anchor="middle" fill="#444">Q4-2</text><text x="206.5" y="388.70000000000005" font-size="8.5" fill="#222" stroke="#222" stroke-width="0.15">10<tspan dy="-3.57" font-size="6.30">5</tspan></text><text x="206.5" y="408.3" font-size="8.5" fill="#222" stroke="#222" stroke-width="0.15">10<tspan dy="-3.57" font-size="6.30">4</tspan></text><text x="206.5" y="428.40000000000003" font-size="8.5" fill="#222" stroke="#222" stroke-width="0.15">10<tspan dy="-3.57" font-size="6.30">3</tspan></text><text x="206.5" y="447.3" font-size="8.5" fill="#222" stroke="#222" stroke-width="0.15">10<tspan dy="-3.57" font-size="6.30">2</tspan></text><line x1="222.0" y1="405.2" x2="225.6" y2="405.2" stroke="#333" stroke-width="0.75"/><line x1="223.6" y1="399.3" x2="225.6" y2="399.3" stroke="#777" stroke-width="0.6"/><line x1="223.6" y1="395.8" x2="225.6" y2="395.8" stroke="#777" stroke-width="0.6"/><line x1="223.6" y1="393.4" x2="225.6" y2="393.4" stroke="#777" stroke-width="0.6"/><line x1="223.6" y1="391.5" x2="225.6" y2="391.5" stroke="#777" stroke-width="0.6"/><line x1="223.6" y1="389.9" x2="225.6" y2="389.9" stroke="#777" stroke-width="0.6"/><line x1="223.6" y1="388.6" x2="225.6" y2="388.6" stroke="#777" stroke-width="0.6"/><line x1="223.6" y1="387.5" x2="225.6" y2="387.5" stroke="#777" stroke-width="0.6"/><line x1="223.6" y1="386.5" x2="225.6" y2="386.5" stroke="#777" stroke-width="0.6"/><line x1="222.0" y1="425.3" x2="225.6" y2="425.3" stroke="#333" stroke-width="0.75"/><line x1="223.6" y1="419.2" x2="225.6" y2="419.2" stroke="#777" stroke-width="0.6"/><line x1="223.6" y1="415.7" x2="225.6" y2="415.7" stroke="#777" stroke-width="0.6"/><line x1="223.6" y1="413.2" x2="225.6" y2="413.2" stroke="#777" stroke-width="0.6"/><line x1="223.6" y1="411.3" x2="225.6" y2="411.3" stroke="#777" stroke-width="0.6"/><line x1="223.6" y1="409.7" x2="225.6" y2="409.7" stroke="#777" stroke-width="0.6"/><line x1="223.6" y1="408.3" x2="225.6" y2="408.3" stroke="#777" stroke-width="0.6"/><line x1="223.6" y1="407.1" x2="225.6" y2="407.1" stroke="#777" stroke-width="0.6"/><line x1="223.6" y1="406.1" x2="225.6" y2="406.1" stroke="#777" stroke-width="0.6"/><line x1="222.0" y1="444.2" x2="225.6" y2="444.2" stroke="#333" stroke-width="0.75"/><line x1="223.6" y1="438.5" x2="225.6" y2="438.5" stroke="#777" stroke-width="0.6"/><line x1="223.6" y1="435.2" x2="225.6" y2="435.2" stroke="#777" stroke-width="0.6"/><line x1="223.6" y1="432.8" x2="225.6" y2="432.8" stroke="#777" stroke-width="0.6"/><line x1="223.6" y1="431.0" x2="225.6" y2="431.0" stroke="#777" stroke-width="0.6"/><line x1="223.6" y1="429.5" x2="225.6" y2="429.5" stroke="#777" stroke-width="0.6"/><line x1="223.6" y1="428.2" x2="225.6" y2="428.2" stroke="#777" stroke-width="0.6"/><line x1="223.6" y1="427.1" x2="225.6" y2="427.1" stroke="#777" stroke-width="0.6"/><line x1="223.6" y1="426.2" x2="225.6" y2="426.2" stroke="#777" stroke-width="0.6"/><line x1="222.0" y1="444.2" x2="225.6" y2="444.2" stroke="#333" stroke-width="0.75"/><line x1="227.3" y1="453" x2="227.3" y2="455.0" stroke="#777" stroke-width="0.6"/><line x1="230.0" y1="453" x2="230.0" y2="455.0" stroke="#777" stroke-width="0.6"/><line x1="232.1" y1="453" x2="232.1" y2="455.0" stroke="#777" stroke-width="0.6"/><line x1="233.8" y1="453" x2="233.8" y2="455.0" stroke="#777" stroke-width="0.6"/><line x1="235.3" y1="453" x2="235.3" y2="455.0" stroke="#777" stroke-width="0.6"/><line x1="236.5" y1="453" x2="236.5" y2="455.0" stroke="#777" stroke-width="0.6"/><line x1="237.6" y1="453" x2="237.6" y2="455.0" stroke="#777" stroke-width="0.6"/><line x1="238.6" y1="453" x2="238.6" y2="456.6" stroke="#333" stroke-width="0.75"/><line x1="245.1" y1="453" x2="245.1" y2="455.0" stroke="#777" stroke-width="0.6"/><line x1="248.9" y1="453" x2="248.9" y2="455.0" stroke="#777" stroke-width="0.6"/><line x1="251.6" y1="453" x2="251.6" y2="455.0" stroke="#777" stroke-width="0.6"/><line x1="253.7" y1="453" x2="253.7" y2="455.0" stroke="#777" stroke-width="0.6"/><line x1="255.4" y1="453" x2="255.4" y2="455.0" stroke="#777" stroke-width="0.6"/><line x1="256.9" y1="453" x2="256.9" y2="455.0" stroke="#777" stroke-width="0.6"/><line x1="258.1" y1="453" x2="258.1" y2="455.0" stroke="#777" stroke-width="0.6"/><line x1="259.2" y1="453" x2="259.2" y2="455.0" stroke="#777" stroke-width="0.6"/><line x1="260.2" y1="453" x2="260.2" y2="456.6" stroke="#333" stroke-width="0.75"/><line x1="266.7" y1="453" x2="266.7" y2="455.0" stroke="#777" stroke-width="0.6"/><line x1="270.5" y1="453" x2="270.5" y2="455.0" stroke="#777" stroke-width="0.6"/><line x1="273.2" y1="453" x2="273.2" y2="455.0" stroke="#777" stroke-width="0.6"/><line x1="275.3" y1="453" x2="275.3" y2="455.0" stroke="#777" stroke-width="0.6"/><line x1="277.0" y1="453" x2="277.0" y2="455.0" stroke="#777" stroke-width="0.6"/><line x1="278.5" y1="453" x2="278.5" y2="455.0" stroke="#777" stroke-width="0.6"/><line x1="279.7" y1="453" x2="279.7" y2="455.0" stroke="#777" stroke-width="0.6"/><line x1="280.8" y1="453" x2="280.8" y2="455.0" stroke="#777" stroke-width="0.6"/><line x1="282.5" y1="453" x2="282.5" y2="456.6" stroke="#333" stroke-width="0.75"/><line x1="289.0" y1="453" x2="289.0" y2="455.0" stroke="#777" stroke-width="0.6"/><line x1="292.8" y1="453" x2="292.8" y2="455.0" stroke="#777" stroke-width="0.6"/><line x1="295.5" y1="453" x2="295.5" y2="455.0" stroke="#777" stroke-width="0.6"/><line x1="297.6" y1="453" x2="297.6" y2="455.0" stroke="#777" stroke-width="0.6"/><line x1="299.3" y1="453" x2="299.3" y2="455.0" stroke="#777" stroke-width="0.6"/><line x1="300.8" y1="453" x2="300.8" y2="455.0" stroke="#777" stroke-width="0.6"/><line x1="302.0" y1="453" x2="302.0" y2="455.0" stroke="#777" stroke-width="0.6"/><line x1="303.1" y1="453" x2="303.1" y2="455.0" stroke="#777" stroke-width="0.6"/><line x1="304.3" y1="453" x2="304.3" y2="456.6" stroke="#333" stroke-width="0.75"/><text x="233.0" y="468.2" font-size="8.5" fill="#222" stroke="#222" stroke-width="0.15">10<tspan dy="-3.57" font-size="6.30">2</tspan></text><text x="254.6" y="468.2" font-size="8.5" fill="#222" stroke="#222" stroke-width="0.15">10<tspan dy="-3.57" font-size="6.30">3</tspan></text><text x="276.9" y="468.2" font-size="8.5" fill="#222" stroke="#222" stroke-width="0.15">10<tspan dy="-3.57" font-size="6.30">4</tspan></text><text x="298.7" y="468.2" font-size="8.5" fill="#222" stroke="#222" stroke-width="0.15">10<tspan dy="-3.57" font-size="6.30">5</tspan></text><text x="268.2" y="481.5" font-size="10.2" text-anchor="middle" fill="#222" stroke="#222" stroke-width="0.15" textLength="26.7" lengthAdjust="spacingAndGlyphs">B710-A</text><text x="202.3" y="417.2" font-size="9.7" text-anchor="middle" fill="#222" stroke="#222" stroke-width="0.15" textLength="32.3" lengthAdjust="spacingAndGlyphs" transform="rotate(-90 202.3 417.2)">YG586-A</text><text x="228.8" y="499.8" font-size="10.3" fill="#222" stroke="#222" stroke-width="0.15" textLength="24.6" lengthAdjust="spacingAndGlyphs">CD49d</text><line x1="256.6" y1="496.4" x2="307.2" y2="496.4" stroke="#111" stroke-width="1.4"/><path d="M314 496.4L306.2 492.9L307.09999999999997 496.4L306.2 499.9Z" fill="#111"/><rect x="336.1" y="360.2" width="140.2" height="126.90000000000003" fill="none" stroke="#2a2a2a" stroke-width="1.3"/><text x="356" y="372.6" font-size="10.4" fill="#1a1a1a" stroke="#1a1a1a" stroke-width="0.15" textLength="116.2" lengthAdjust="spacingAndGlyphs">Specimen_001-Tube_027</text><path d="M394 437h5v1h-5zM416 437h3v1h-3zM395 438h1v1h-1zM416 438h1v1h-1zM419 438h1v1h-1zM395 439h2v1h-2zM419 439h1v1h-1zM394 440h1v1h-1zM420 440h1v1h-1zM418 441h1v1h-1zM420 441h2v1h-2zM421 442h1v1h-1zM420 443h2v1h-2zM421 444h1v1h-1zM421 445h2v1h-2zM421 446h2v1h-2zM421 448h1v1h-1zM419 449h3v1h-3zM394 450h1v1h-1zM419 450h3v1h-3zM394 451h1v1h-1zM418 451h1v1h-1zM420 451h1v1h-1zM394 452h1v1h-1zM394 453h1v1h-1zM418 453h2v1h-2z" fill="#f000f0" fill-opacity="0.2"/><path d="M402 437h1v1h-1zM412 437h2v1h-2zM415 437h1v1h-1zM394 438h1v1h-1zM396 438h2v1h-2zM399 438h1v1h-1zM410 438h1v1h-1zM412 438h1v1h-1zM414 438h2v1h-2zM417 438h2v1h-2zM394 439h1v1h-1zM412 439h2v1h-2zM415 439h2v1h-2zM418 439h1v1h-1zM395 440h1v1h-1zM417 440h3v1h-3zM417 441h1v1h-1zM419 441h1v1h-1zM394 442h1v1h-1zM415 442h1v1h-1zM419 442h2v1h-2zM418 443h1v1h-1zM394 444h1v1h-1zM420 444h1v1h-1zM394 445h1v1h-1zM419 445h2v1h-2zM420 446h1v1h-1zM395 447h1v1h-1zM416 447h1v1h-1zM418 447h4v1h-4zM394 448h3v1h-3zM419 448h2v1h-2zM395 449h1v1h-1zM395 450h1v1h-1zM398 450h1v1h-1zM415 450h1v1h-1zM418 450h1v1h-1zM395 451h1v1h-1zM416 451h2v1h-2zM419 451h1v1h-1zM395 452h2v1h-2zM415 452h5v1h-5zM395 453h4v1h-4zM404 453h1v1h-1zM412 453h1v1h-1zM414 453h1v1h-1zM416 453h2v1h-2z" fill="#f000f0" fill-opacity="0.4"/><path d="M399 437h3v1h-3zM407 437h1v1h-1zM409 437h1v1h-1zM414 437h1v1h-1zM398 438h1v1h-1zM400 438h1v1h-1zM402 438h1v1h-1zM405 438h2v1h-2zM409 438h1v1h-1zM411 438h1v1h-1zM413 438h1v1h-1zM398 439h1v1h-1zM414 439h1v1h-1zM417 439h1v1h-1zM397 440h1v1h-1zM413 440h1v1h-1zM416 440h1v1h-1zM394 441h1v1h-1zM396 441h1v1h-1zM398 441h1v1h-1zM415 441h1v1h-1zM395 442h2v1h-2zM399 442h1v1h-1zM418 442h1v1h-1zM394 443h1v1h-1zM403 443h1v1h-1zM414 443h2v1h-2zM417 443h1v1h-1zM419 443h1v1h-1zM399 444h1v1h-1zM403 444h1v1h-1zM411 444h1v1h-1zM419 444h1v1h-1zM395 445h2v1h-2zM416 445h1v1h-1zM418 445h1v1h-1zM413 446h1v1h-1zM416 446h1v1h-1zM418 446h2v1h-2zM396 447h1v1h-1zM417 447h1v1h-1zM397 448h1v1h-1zM414 448h5v1h-5zM394 449h1v1h-1zM396 449h1v1h-1zM400 449h1v1h-1zM415 449h2v1h-2zM418 449h1v1h-1zM396 450h1v1h-1zM416 450h2v1h-2zM396 451h1v1h-1zM401 451h1v1h-1zM397 452h2v1h-2zM401 452h2v1h-2zM412 452h1v1h-1zM399 453h1v1h-1zM401 453h2v1h-2zM405 453h1v1h-1zM409 453h1v1h-1zM411 453h1v1h-1zM415 453h1v1h-1z" fill="#f000f0" fill-opacity="0.6"/><path d="M403 437h3v1h-3zM410 437h2v1h-2zM408 438h1v1h-1zM397 439h1v1h-1zM399 439h1v1h-1zM401 439h1v1h-1zM396 440h1v1h-1zM398 440h2v1h-2zM415 440h1v1h-1zM395 441h1v1h-1zM414 441h1v1h-1zM416 441h1v1h-1zM397 442h1v1h-1zM417 442h1v1h-1zM395 443h1v1h-1zM416 443h1v1h-1zM395 444h2v1h-2zM416 444h3v1h-3zM417 445h1v1h-1zM394 446h3v1h-3zM394 447h1v1h-1zM397 449h1v1h-1zM417 449h1v1h-1zM397 450h1v1h-1zM414 450h1v1h-1zM397 451h3v1h-3zM413 451h1v1h-1zM415 451h1v1h-1zM399 452h1v1h-1zM411 452h1v1h-1zM414 452h1v1h-1zM400 453h1v1h-1zM403 453h1v1h-1zM406 453h3v1h-3zM410 453h1v1h-1zM413 453h1v1h-1z" fill="#f000f0" fill-opacity="0.8"/><path d="M406 437h1v1h-1zM408 437h1v1h-1zM401 438h1v1h-1zM403 438h2v1h-2zM407 438h1v1h-1zM400 439h1v1h-1zM402 439h10v1h-10zM400 440h13v1h-13zM414 440h1v1h-1zM397 441h1v1h-1zM399 441h15v1h-15zM398 442h1v1h-1zM400 442h15v1h-15zM416 442h1v1h-1zM396 443h7v1h-7zM404 443h10v1h-10zM397 444h2v1h-2zM400 444h3v1h-3zM404 444h7v1h-7zM412 444h4v1h-4zM397 445h19v1h-19zM397 446h16v1h-16zM414 446h2v1h-2zM417 446h1v1h-1zM397 447h19v1h-19zM398 448h16v1h-16zM398 449h2v1h-2zM401 449h14v1h-14zM399 450h15v1h-15zM400 451h1v1h-1zM402 451h11v1h-11zM414 451h1v1h-1zM400 452h1v1h-1zM403 452h8v1h-8zM413 452h1v1h-1z" fill="#f000f0" fill-opacity="1.0"/><path d="M375 430h1v1h-1zM406 442h1v1h-1zM412 441h1v1h-1zM416 438h1v1h-1zM404 426h1v1h-1zM396 427h1v1h-1zM412 447h1v1h-1zM418 435h1v1h-1zM385 452h1v1h-1zM392 437h1v1h-1zM403 445h1v1h-1zM379 432h1v1h-1zM403 438h1v1h-1zM420 440h1v1h-1zM397 446h1v1h-1zM399 449h1v1h-1zM415 432h1v1h-1zM418 442h1v1h-1zM426 441h1v1h-1zM411 438h1v1h-1zM423 446h1v1h-1zM404 439h1v1h-1zM428 450h1v1h-1zM403 452h1v1h-1zM412 435h1v1h-1zM400 444h1v1h-1zM403 444h1v1h-1zM408 450h1v1h-1zM392 447h1v1h-1zM413 436h1v1h-1zM391 444h1v1h-1zM414 441h1v1h-1zM414 439h1v1h-1zM420 434h1v1h-1zM437 437h1v1h-1zM390 433h1v1h-1zM396 450h1v1h-1zM398 428h1v1h-1zM403 443h1v1h-1zM421 438h1v1h-1zM406 433h1v1h-1zM403 447h1v1h-1zM396 436h1v1h-1zM402 450h1v1h-1zM405 441h1v1h-1zM409 444h1v1h-1zM393 441h1v1h-1zM409 447h1v1h-1zM417 449h1v1h-1zM414 439h1v1h-1zM395 442h1v1h-1zM420 438h1v1h-1zM395 439h1v1h-1zM392 438h1v1h-1zM410 430h1v1h-1zM398 436h1v1h-1zM394 430h1v1h-1zM421 438h1v1h-1zM421 447h1v1h-1zM418 442h1v1h-1zM426 438h1v1h-1zM421 435h1v1h-1zM396 437h1v1h-1zM424 432h1v1h-1zM411 433h1v1h-1zM429 444h1v1h-1zM415 436h1v1h-1zM429 447h1v1h-1zM405 438h1v1h-1zM402 441h1v1h-1zM408 433h1v1h-1zM429 444h1v1h-1zM434 449h1v1h-1zM429 448h1v1h-1zM421 451h1v1h-1zM436 428h1v1h-1zM407 443h1v1h-1zM432 433h1v1h-1zM411 426h1v1h-1zM399 438h1v1h-1zM416 451h1v1h-1zM436 434h1v1h-1zM404 432h1v1h-1zM438 452h1v1h-1zM415 443h1v1h-1zM422 429h1v1h-1zM399 426h1v1h-1zM404 427h1v1h-1zM432 427h1v1h-1zM445 449h1v1h-1zM410 444h1v1h-1z" fill="#f000f0" fill-opacity="0.38"/><path d="M447 436h1v1h-1zM439 436h1v1h-1zM453 438h1v1h-1zM451 431h1v1h-1zM456 433h1v1h-1zM443 429h1v1h-1zM444 438h1v1h-1zM450 436h1v1h-1zM446 435h1v1h-1zM444 433h1v1h-1zM442 433h1v1h-1zM441 432h1v1h-1zM438 437h1v1h-1zM438 431h1v1h-1zM446 437h1v1h-1zM441 435h1v1h-1zM433 430h1v1h-1zM443 428h1v1h-1zM455 431h1v1h-1zM453 433h1v1h-1zM429 429h1v1h-1zM437 436h1v1h-1zM448 438h1v1h-1zM444 436h1v1h-1zM444 428h1v1h-1zM442 425h1v1h-1zM443 437h1v1h-1zM436 439h1v1h-1zM451 432h1v1h-1zM436 435h1v1h-1zM442 433h1v1h-1zM454 431h1v1h-1zM451 437h1v1h-1zM443 432h1v1h-1zM443 437h1v1h-1zM439 440h1v1h-1zM440 433h1v1h-1zM441 440h1v1h-1zM452 429h1v1h-1zM440 437h1v1h-1zM447 434h1v1h-1zM446 443h1v1h-1zM446 434h1v1h-1zM441 431h1v1h-1zM448 439h1v1h-1zM444 428h1v1h-1zM444 435h1v1h-1zM440 431h1v1h-1zM428 439h1v1h-1zM448 433h1v1h-1zM448 437h1v1h-1zM440 433h1v1h-1zM442 430h1v1h-1zM445 426h1v1h-1zM436 440h1v1h-1zM448 434h1v1h-1zM448 429h1v1h-1zM449 432h1v1h-1zM450 437h1v1h-1zM430 428h1v1h-1zM447 442h1v1h-1zM440 433h1v1h-1zM451 432h1v1h-1zM451 438h1v1h-1zM449 434h1v1h-1zM443 430h1v1h-1zM443 435h1v1h-1zM436 438h1v1h-1zM450 430h1v1h-1zM433 430h1v1h-1zM457 436h1v1h-1zM450 432h1v1h-1zM452 426h1v1h-1zM451 431h1v1h-1zM446 436h1v1h-1zM434 431h1v1h-1zM439 438h1v1h-1zM447 432h1v1h-1zM442 433h1v1h-1zM446 428h1v1h-1zM439 431h1v1h-1zM438 433h1v1h-1zM445 436h1v1h-1zM448 434h1v1h-1zM443 437h1v1h-1zM437 426h1v1h-1zM432 434h1v1h-1zM457 433h1v1h-1zM435 430h1v1h-1zM437 433h1v1h-1zM438 431h1v1h-1zM449 435h1v1h-1zM438 432h1v1h-1zM447 435h1v1h-1zM445 430h1v1h-1zM435 438h1v1h-1zM444 435h1v1h-1zM435 440h1v1h-1zM442 433h1v1h-1zM448 432h1v1h-1zM442 434h1v1h-1zM437 432h1v1h-1zM440 430h1v1h-1zM442 434h1v1h-1zM445 433h1v1h-1zM427 431h1v1h-1zM430 432h1v1h-1zM446 430h1v1h-1zM442 434h1v1h-1zM443 429h1v1h-1zM445 440h1v1h-1zM442 434h1v1h-1zM440 437h1v1h-1zM444 429h1v1h-1zM448 435h1v1h-1zM445 433h1v1h-1zM443 437h1v1h-1zM436 437h1v1h-1zM445 428h1v1h-1zM435 438h1v1h-1zM438 428h1v1h-1zM444 438h1v1h-1zM444 433h1v1h-1zM451 429h1v1h-1zM449 436h1v1h-1zM446 434h1v1h-1zM441 430h1v1h-1zM443 431h1v1h-1zM441 435h1v1h-1zM455 429h1v1h-1zM446 430h1v1h-1zM438 440h1v1h-1zM437 431h1v1h-1zM452 435h1v1h-1zM437 435h1v1h-1zM446 437h1v1h-1zM444 437h1v1h-1zM450 424h1v1h-1zM437 432h1v1h-1zM446 438h1v1h-1zM444 431h1v1h-1zM449 440h1v1h-1zM452 434h1v1h-1zM444 429h1v1h-1zM441 436h1v1h-1zM449 441h1v1h-1zM433 431h1v1h-1zM444 436h1v1h-1zM436 430h1v1h-1zM435 431h1v1h-1zM432 434h1v1h-1zM432 435h1v1h-1zM449 435h1v1h-1zM449 434h1v1h-1zM444 442h1v1h-1zM450 430h1v1h-1zM443 427h1v1h-1zM440 436h1v1h-1zM436 434h1v1h-1z" fill="#23944a" fill-opacity="0.55"/><rect x="370.4" y="378" width="90.80000000000001" height="75" fill="none" stroke="#8a8a8a" stroke-width="0.8"/><line x1="393.5" y1="378" x2="393.5" y2="453" stroke="#5a5a5a" stroke-width="1.15"/><line x1="370.4" y1="437.5" x2="461.2" y2="437.5" stroke="#4a4a4a" stroke-width="1.0"/><text x="380.4" y="428.1" font-size="5.2" text-anchor="middle" fill="#444">Q1-1</text><text x="406.3" y="428.1" font-size="5.2" text-anchor="middle" fill="#444">Q2-1</text><text x="380.4" y="447.5" font-size="5.2" text-anchor="middle" fill="#444">Q3-1</text><text x="406.3" y="447.5" font-size="5.2" text-anchor="middle" fill="#444">Q4-1</text><text x="353.5" y="391.1" font-size="8.5" fill="#222" stroke="#222" stroke-width="0.15">10<tspan dy="-3.57" font-size="6.30">5</tspan></text><text x="353.5" y="409.8" font-size="8.5" fill="#222" stroke="#222" stroke-width="0.15">10<tspan dy="-3.57" font-size="6.30">4</tspan></text><text x="353.5" y="428.70000000000005" font-size="8.5" fill="#222" stroke="#222" stroke-width="0.15">10<tspan dy="-3.57" font-size="6.30">3</tspan></text><text x="353.5" y="447.3" font-size="8.5" fill="#222" stroke="#222" stroke-width="0.15">10<tspan dy="-3.57" font-size="6.30">2</tspan></text><line x1="366.79999999999995" y1="406.7" x2="370.4" y2="406.7" stroke="#333" stroke-width="0.75"/><line x1="368.4" y1="401.1" x2="370.4" y2="401.1" stroke="#777" stroke-width="0.6"/><line x1="368.4" y1="397.8" x2="370.4" y2="397.8" stroke="#777" stroke-width="0.6"/><line x1="368.4" y1="395.4" x2="370.4" y2="395.4" stroke="#777" stroke-width="0.6"/><line x1="368.4" y1="393.6" x2="370.4" y2="393.6" stroke="#777" stroke-width="0.6"/><line x1="368.4" y1="392.1" x2="370.4" y2="392.1" stroke="#777" stroke-width="0.6"/><line x1="368.4" y1="390.9" x2="370.4" y2="390.9" stroke="#777" stroke-width="0.6"/><line x1="368.4" y1="389.8" x2="370.4" y2="389.8" stroke="#777" stroke-width="0.6"/><line x1="368.4" y1="388.9" x2="370.4" y2="388.9" stroke="#777" stroke-width="0.6"/><line x1="366.79999999999995" y1="425.6" x2="370.4" y2="425.6" stroke="#333" stroke-width="0.75"/><line x1="368.4" y1="419.9" x2="370.4" y2="419.9" stroke="#777" stroke-width="0.6"/><line x1="368.4" y1="416.6" x2="370.4" y2="416.6" stroke="#777" stroke-width="0.6"/><line x1="368.4" y1="414.2" x2="370.4" y2="414.2" stroke="#777" stroke-width="0.6"/><line x1="368.4" y1="412.4" x2="370.4" y2="412.4" stroke="#777" stroke-width="0.6"/><line x1="368.4" y1="410.9" x2="370.4" y2="410.9" stroke="#777" stroke-width="0.6"/><line x1="368.4" y1="409.6" x2="370.4" y2="409.6" stroke="#777" stroke-width="0.6"/><line x1="368.4" y1="408.5" x2="370.4" y2="408.5" stroke="#777" stroke-width="0.6"/><line x1="368.4" y1="407.6" x2="370.4" y2="407.6" stroke="#777" stroke-width="0.6"/><line x1="366.79999999999995" y1="444.2" x2="370.4" y2="444.2" stroke="#333" stroke-width="0.75"/><line x1="368.4" y1="438.6" x2="370.4" y2="438.6" stroke="#777" stroke-width="0.6"/><line x1="368.4" y1="435.3" x2="370.4" y2="435.3" stroke="#777" stroke-width="0.6"/><line x1="368.4" y1="433.0" x2="370.4" y2="433.0" stroke="#777" stroke-width="0.6"/><line x1="368.4" y1="431.2" x2="370.4" y2="431.2" stroke="#777" stroke-width="0.6"/><line x1="368.4" y1="429.7" x2="370.4" y2="429.7" stroke="#777" stroke-width="0.6"/><line x1="368.4" y1="428.5" x2="370.4" y2="428.5" stroke="#777" stroke-width="0.6"/><line x1="368.4" y1="427.4" x2="370.4" y2="427.4" stroke="#777" stroke-width="0.6"/><line x1="368.4" y1="426.5" x2="370.4" y2="426.5" stroke="#777" stroke-width="0.6"/><line x1="366.79999999999995" y1="444.2" x2="370.4" y2="444.2" stroke="#333" stroke-width="0.75"/><line x1="372.5" y1="453" x2="372.5" y2="455.0" stroke="#777" stroke-width="0.6"/><line x1="375.2" y1="453" x2="375.2" y2="455.0" stroke="#777" stroke-width="0.6"/><line x1="377.4" y1="453" x2="377.4" y2="455.0" stroke="#777" stroke-width="0.6"/><line x1="379.1" y1="453" x2="379.1" y2="455.0" stroke="#777" stroke-width="0.6"/><line x1="380.6" y1="453" x2="380.6" y2="455.0" stroke="#777" stroke-width="0.6"/><line x1="381.9" y1="453" x2="381.9" y2="455.0" stroke="#777" stroke-width="0.6"/><line x1="383.0" y1="453" x2="383.0" y2="455.0" stroke="#777" stroke-width="0.6"/><line x1="384.0" y1="453" x2="384.0" y2="456.6" stroke="#333" stroke-width="0.75"/><line x1="390.6" y1="453" x2="390.6" y2="455.0" stroke="#777" stroke-width="0.6"/><line x1="394.5" y1="453" x2="394.5" y2="455.0" stroke="#777" stroke-width="0.6"/><line x1="397.2" y1="453" x2="397.2" y2="455.0" stroke="#777" stroke-width="0.6"/><line x1="399.4" y1="453" x2="399.4" y2="455.0" stroke="#777" stroke-width="0.6"/><line x1="401.1" y1="453" x2="401.1" y2="455.0" stroke="#777" stroke-width="0.6"/><line x1="402.6" y1="453" x2="402.6" y2="455.0" stroke="#777" stroke-width="0.6"/><line x1="403.9" y1="453" x2="403.9" y2="455.0" stroke="#777" stroke-width="0.6"/><line x1="405.0" y1="453" x2="405.0" y2="455.0" stroke="#777" stroke-width="0.6"/><line x1="406.0" y1="453" x2="406.0" y2="456.6" stroke="#333" stroke-width="0.75"/><line x1="412.6" y1="453" x2="412.6" y2="455.0" stroke="#777" stroke-width="0.6"/><line x1="416.5" y1="453" x2="416.5" y2="455.0" stroke="#777" stroke-width="0.6"/><line x1="419.2" y1="453" x2="419.2" y2="455.0" stroke="#777" stroke-width="0.6"/><line x1="421.4" y1="453" x2="421.4" y2="455.0" stroke="#777" stroke-width="0.6"/><line x1="423.1" y1="453" x2="423.1" y2="455.0" stroke="#777" stroke-width="0.6"/><line x1="424.6" y1="453" x2="424.6" y2="455.0" stroke="#777" stroke-width="0.6"/><line x1="425.9" y1="453" x2="425.9" y2="455.0" stroke="#777" stroke-width="0.6"/><line x1="427.0" y1="453" x2="427.0" y2="455.0" stroke="#777" stroke-width="0.6"/><line x1="429.7" y1="453" x2="429.7" y2="456.6" stroke="#333" stroke-width="0.75"/><line x1="436.3" y1="453" x2="436.3" y2="455.0" stroke="#777" stroke-width="0.6"/><line x1="440.2" y1="453" x2="440.2" y2="455.0" stroke="#777" stroke-width="0.6"/><line x1="442.9" y1="453" x2="442.9" y2="455.0" stroke="#777" stroke-width="0.6"/><line x1="445.1" y1="453" x2="445.1" y2="455.0" stroke="#777" stroke-width="0.6"/><line x1="446.8" y1="453" x2="446.8" y2="455.0" stroke="#777" stroke-width="0.6"/><line x1="448.3" y1="453" x2="448.3" y2="455.0" stroke="#777" stroke-width="0.6"/><line x1="449.6" y1="453" x2="449.6" y2="455.0" stroke="#777" stroke-width="0.6"/><line x1="450.7" y1="453" x2="450.7" y2="455.0" stroke="#777" stroke-width="0.6"/><line x1="452.6" y1="453" x2="452.6" y2="456.6" stroke="#333" stroke-width="0.75"/><text x="378.4" y="468.2" font-size="8.5" fill="#222" stroke="#222" stroke-width="0.15">10<tspan dy="-3.57" font-size="6.30">2</tspan></text><text x="400.4" y="468.2" font-size="8.5" fill="#222" stroke="#222" stroke-width="0.15">10<tspan dy="-3.57" font-size="6.30">3</tspan></text><text x="424.09999999999997" y="468.2" font-size="8.5" fill="#222" stroke="#222" stroke-width="0.15">10<tspan dy="-3.57" font-size="6.30">4</tspan></text><text x="447.0" y="468.2" font-size="8.5" fill="#222" stroke="#222" stroke-width="0.15">10<tspan dy="-3.57" font-size="6.30">5</tspan></text><text x="414.3" y="481.5" font-size="10.2" text-anchor="middle" fill="#222" stroke="#222" stroke-width="0.15" textLength="26.7" lengthAdjust="spacingAndGlyphs">B530-A</text><text x="346.8" y="417.2" font-size="9.7" text-anchor="middle" fill="#222" stroke="#222" stroke-width="0.15" textLength="32.3" lengthAdjust="spacingAndGlyphs" transform="rotate(-90 346.8 417.2)">YG586-A</text><text x="376" y="499.8" font-size="10.3" fill="#222" stroke="#222" stroke-width="0.15" textLength="16.5" lengthAdjust="spacingAndGlyphs">TLR9</text><line x1="396" y1="496.5" x2="447.4" y2="496.5" stroke="#111" stroke-width="1.4"/><path d="M454.2 496.5L446.4 493.0L447.29999999999995 496.5L446.4 500.0Z" fill="#111"/><rect x="19" y="523.4" width="1.8" height="1.8" rx="0.6" fill="#111"/><rect x="19" y="526.3" width="1.8" height="5.0" rx="0.5" fill="#111"/><rect x="22.3" y="523.4" width="1.8" height="1.8" rx="0.6" fill="#111"/><rect x="22.3" y="526.3" width="1.8" height="5.0" rx="0.5" fill="#111"/><rect x="78.8" y="596.2" width="25.0" height="57.59999999999991" fill="#f3c8c2" stroke="none" stroke-width="1"/><rect x="116.7" y="621.7" width="24.999999999999986" height="32.09999999999991" fill="#d5e7f8" stroke="none" stroke-width="1"/><circle cx="88.8" cy="568.5" r="1.8" fill="#c4001c"/><circle cx="93.8" cy="568.5" r="1.8" fill="#c4001c"/><circle cx="88.8" cy="583.3" r="1.8" fill="#c4001c"/><circle cx="96.2" cy="585.2" r="1.8" fill="#c4001c"/><circle cx="93.7" cy="589.4" r="1.8" fill="#c4001c"/><circle cx="86.5" cy="593.8" r="1.8" fill="#c4001c"/><circle cx="89.2" cy="596.2" r="1.8" fill="#c4001c"/><circle cx="93.7" cy="600.6" r="1.8" fill="#c4001c"/><circle cx="91.3" cy="608.7" r="1.8" fill="#c4001c"/><circle cx="88.8" cy="611.5" r="1.8" fill="#c4001c"/><circle cx="93.8" cy="615.4" r="1.8" fill="#c4001c"/><circle cx="91.3" cy="626.5" r="1.8" fill="#c4001c"/><circle cx="129.2" cy="601.3" r="1.8" fill="#2aa6e8"/><circle cx="129.2" cy="607.7" r="1.8" fill="#2aa6e8"/><circle cx="124.4" cy="618.3" r="1.8" fill="#2aa6e8"/><circle cx="129.2" cy="620.8" r="1.8" fill="#2aa6e8"/><circle cx="133.8" cy="620.4" r="1.8" fill="#2aa6e8"/><circle cx="126.9" cy="624.6" r="1.8" fill="#2aa6e8"/><circle cx="131.5" cy="625.4" r="1.8" fill="#2aa6e8"/><circle cx="121.5" cy="629.6" r="1.8" fill="#2aa6e8"/><circle cx="136.2" cy="629.2" r="1.8" fill="#2aa6e8"/><circle cx="124.4" cy="630.8" r="1.8" fill="#2aa6e8"/><circle cx="133.8" cy="630.4" r="1.8" fill="#2aa6e8"/><circle cx="126.7" cy="633.7" r="1.8" fill="#2aa6e8"/><line x1="91.3" y1="577.5" x2="91.3" y2="613.5" stroke="#1a1a1a" stroke-width="1.3"/><line x1="85.0" y1="577.5" x2="97.6" y2="577.5" stroke="#1a1a1a" stroke-width="1.4"/><line x1="85.0" y1="613.5" x2="97.6" y2="613.5" stroke="#1a1a1a" stroke-width="1.4"/><line x1="129.2" y1="611.5" x2="129.2" y2="630.8" stroke="#1a1a1a" stroke-width="1.3"/><line x1="122.6" y1="611.5" x2="135.79999999999998" y2="611.5" stroke="#1a1a1a" stroke-width="1.4"/><line x1="122.6" y1="630.8" x2="135.79999999999998" y2="630.8" stroke="#1a1a1a" stroke-width="1.4"/><line x1="66.2" y1="558.7" x2="66.2" y2="654.5" stroke="#111" stroke-width="1.4"/><line x1="65.5" y1="653.8" x2="154.2" y2="653.8" stroke="#111" stroke-width="1.4"/><line x1="62.900000000000006" y1="561.2" x2="66.2" y2="561.2" stroke="#111" stroke-width="1.1"/><text x="59.6" y="564.2" font-size="8.8" text-anchor="end" fill="#222" stroke="#222" stroke-width="0.15">250</text><line x1="62.900000000000006" y1="579.8" x2="66.2" y2="579.8" stroke="#111" stroke-width="1.1"/><text x="59.6" y="582.8" font-size="8.8" text-anchor="end" fill="#222" stroke="#222" stroke-width="0.15">200</text><line x1="62.900000000000006" y1="598.4" x2="66.2" y2="598.4" stroke="#111" stroke-width="1.1"/><text x="59.6" y="601.4" font-size="8.8" text-anchor="end" fill="#222" stroke="#222" stroke-width="0.15">150</text><line x1="62.900000000000006" y1="616.9" x2="66.2" y2="616.9" stroke="#111" stroke-width="1.1"/><text x="59.6" y="619.9" font-size="8.8" text-anchor="end" fill="#222" stroke="#222" stroke-width="0.15">100</text><line x1="62.900000000000006" y1="635.3" x2="66.2" y2="635.3" stroke="#111" stroke-width="1.1"/><text x="59.6" y="638.3" font-size="8.8" text-anchor="end" fill="#222" stroke="#222" stroke-width="0.15">50</text><line x1="62.900000000000006" y1="653.8" x2="66.2" y2="653.8" stroke="#111" stroke-width="1.1"/><text x="59.6" y="656.8" font-size="8.8" text-anchor="end" fill="#222" stroke="#222" stroke-width="0.15">0</text><line x1="91.3" y1="653.8" x2="91.3" y2="657.0999999999999" stroke="#111" stroke-width="1.1"/><line x1="129.2" y1="653.8" x2="129.2" y2="657.0999999999999" stroke="#111" stroke-width="1.1"/><line x1="91.3" y1="558" x2="129.6" y2="558" stroke="#1a1a1a" stroke-width="1.3"/><line x1="91.3" y1="556" x2="91.3" y2="560" stroke="#1a1a1a" stroke-width="1.1"/><line x1="129.6" y1="556" x2="129.6" y2="560" stroke="#1a1a1a" stroke-width="1.1"/><text x="93" y="543.2" font-size="8.3" fill="#222" stroke="#222" stroke-width="0.15" textLength="33.5" lengthAdjust="spacingAndGlyphs">P&lt;0.0001</text><text x="100.7" y="552" font-size="8.3" fill="#222" stroke="#222" stroke-width="0.15" textLength="20.1" lengthAdjust="spacingAndGlyphs">N=12</text><text x="40.2" y="626.9" font-size="8.5" fill="#222" stroke="#222" stroke-width="0.15" textLength="42.2" lengthAdjust="spacingAndGlyphs" transform="rotate(-90 40.2 626.9)">p-STAT3 MFI</text><rect x="226.1" y="609.4" width="21.599999999999994" height="44.39999999999998" fill="#f3c8c2" stroke="none" stroke-width="1"/><rect x="259.8" y="627.9" width="22.0" height="25.899999999999977" fill="#d5e7f8" stroke="none" stroke-width="1"/><circle cx="234.6" cy="560.9" r="1.8" fill="#c4001c"/><circle cx="239.4" cy="561.8" r="1.8" fill="#c4001c"/><circle cx="229.6" cy="611.4" r="1.8" fill="#c4001c"/><circle cx="244.3" cy="610.2" r="1.8" fill="#c4001c"/><circle cx="234.6" cy="614.6" r="1.8" fill="#c4001c"/><circle cx="239.4" cy="614.6" r="1.8" fill="#c4001c"/><circle cx="229.6" cy="616.3" r="1.8" fill="#c4001c"/><circle cx="244.3" cy="617.5" r="1.8" fill="#c4001c"/><circle cx="234.6" cy="620.1" r="1.8" fill="#c4001c"/><circle cx="239.4" cy="620.1" r="1.8" fill="#c4001c"/><circle cx="234.6" cy="627" r="1.8" fill="#c4001c"/><circle cx="239.4" cy="626.7" r="1.8" fill="#c4001c"/><circle cx="261.1" cy="621" r="1.8" fill="#2aa6e8"/><circle cx="265.4" cy="621.8" r="1.8" fill="#2aa6e8"/><circle cx="269.7" cy="619.2" r="1.8" fill="#2aa6e8"/><circle cx="273.7" cy="619.2" r="1.8" fill="#2aa6e8"/><circle cx="268.8" cy="622.7" r="1.8" fill="#2aa6e8"/><circle cx="276.3" cy="622.3" r="1.8" fill="#2aa6e8"/><circle cx="280.1" cy="621" r="1.8" fill="#2aa6e8"/><circle cx="272.3" cy="625.3" r="1.8" fill="#2aa6e8"/><circle cx="263.3" cy="636.9" r="1.8" fill="#2aa6e8"/><circle cx="268.2" cy="639.1" r="1.8" fill="#2aa6e8"/><circle cx="273.2" cy="637.9" r="1.8" fill="#2aa6e8"/><circle cx="278" cy="635.7" r="1.8" fill="#2aa6e8"/><line x1="236.8" y1="586" x2="236.8" y2="631" stroke="#1a1a1a" stroke-width="1.3"/><line x1="231.3" y1="586" x2="242.3" y2="586" stroke="#1a1a1a" stroke-width="1.4"/><line x1="231.3" y1="631" x2="242.3" y2="631" stroke="#1a1a1a" stroke-width="1.4"/><line x1="270.6" y1="619.2" x2="270.6" y2="634.8" stroke="#1a1a1a" stroke-width="1.3"/><line x1="265.40000000000003" y1="619.2" x2="275.8" y2="619.2" stroke="#1a1a1a" stroke-width="1.4"/><line x1="265.40000000000003" y1="634.8" x2="275.8" y2="634.8" stroke="#1a1a1a" stroke-width="1.4"/><line x1="214.3" y1="537.5" x2="214.3" y2="654.5" stroke="#111" stroke-width="1.4"/><line x1="213.60000000000002" y1="653.8" x2="293" y2="653.8" stroke="#111" stroke-width="1.4"/><line x1="211.0" y1="540.2" x2="214.3" y2="540.2" stroke="#111" stroke-width="1.1"/><text x="207.8" y="543.2" font-size="8.3" text-anchor="end" fill="#222" stroke="#222" stroke-width="0.15">2500</text><line x1="211.0" y1="562.4" x2="214.3" y2="562.4" stroke="#111" stroke-width="1.1"/><text x="207.8" y="565.4" font-size="8.3" text-anchor="end" fill="#222" stroke="#222" stroke-width="0.15">2000</text><line x1="211.0" y1="585.4" x2="214.3" y2="585.4" stroke="#111" stroke-width="1.1"/><text x="207.8" y="588.4" font-size="8.3" text-anchor="end" fill="#222" stroke="#222" stroke-width="0.15">1500</text><line x1="211.0" y1="608.1" x2="214.3" y2="608.1" stroke="#111" stroke-width="1.1"/><text x="207.8" y="611.1" font-size="8.3" text-anchor="end" fill="#222" stroke="#222" stroke-width="0.15">1000</text><line x1="211.0" y1="630.6" x2="214.3" y2="630.6" stroke="#111" stroke-width="1.1"/><text x="207.8" y="633.6" font-size="8.3" text-anchor="end" fill="#222" stroke="#222" stroke-width="0.15">500</text><line x1="211.0" y1="650" x2="214.3" y2="650" stroke="#111" stroke-width="1.1"/><text x="207.8" y="653.0" font-size="8.3" text-anchor="end" fill="#222" stroke="#222" stroke-width="0.15">0</text><line x1="236.8" y1="653.8" x2="236.8" y2="657.0999999999999" stroke="#111" stroke-width="1.1"/><line x1="270.6" y1="653.8" x2="270.6" y2="657.0999999999999" stroke="#111" stroke-width="1.1"/><line x1="235.6" y1="552.9" x2="273.5" y2="552.9" stroke="#1a1a1a" stroke-width="1.3"/><line x1="235.6" y1="550.9" x2="235.6" y2="554.9" stroke="#1a1a1a" stroke-width="1.1"/><line x1="273.5" y1="550.9" x2="273.5" y2="554.9" stroke="#1a1a1a" stroke-width="1.1"/><text x="254.3" y="538.4" font-size="8.1" text-anchor="middle" fill="#222" stroke="#222" stroke-width="0.15" textLength="33" lengthAdjust="spacingAndGlyphs">P=0.0005</text><text x="254.3" y="547.8" font-size="8.1" text-anchor="middle" fill="#222" stroke="#222" stroke-width="0.15" textLength="20" lengthAdjust="spacingAndGlyphs">N=12</text><text x="184.3" y="625.4" font-size="8.8" fill="#222" stroke="#222" stroke-width="0.15" textLength="61.5" lengthAdjust="spacingAndGlyphs" transform="rotate(-90 184.3 625.4)">p-p65 NF-kB MFI</text><text x="26.5" y="731" font-size="9.8" fill="#1a1a1a" stroke="#1a1a1a" stroke-width="0.15" transform="rotate(-45 26.5 731)" textLength="96" lengthAdjust="spacingAndGlyphs">CD38<tspan dy="-3.9" font-size="6.86" stroke-width="0.2">hi</tspan><tspan dy="3.9">CD49d</tspan><tspan dy="-3.9" font-size="6.86" stroke-width="0.2">hi</tspan><tspan dy="3.9">TLR9</tspan><tspan dy="-3.9" font-size="6.86" stroke-width="0.2">bright</tspan></text><text x="68" y="727" font-size="9.8" fill="#1a1a1a" stroke="#1a1a1a" stroke-width="0.15" transform="rotate(-45 68 727)" textLength="91" lengthAdjust="spacingAndGlyphs">CD38<tspan dy="-3.9" font-size="6.86" stroke-width="0.2">lo</tspan><tspan dy="3.9">CD49d</tspan><tspan dy="-3.9" font-size="6.86" stroke-width="0.2">lo</tspan><tspan dy="3.9">TLR9</tspan><tspan dy="-3.9" font-size="6.86" stroke-width="0.2">dim</tspan></text><text x="171.9" y="731" font-size="9.8" fill="#1a1a1a" stroke="#1a1a1a" stroke-width="0.15" transform="rotate(-45 171.9 731)" textLength="96" lengthAdjust="spacingAndGlyphs">CD38<tspan dy="-3.9" font-size="6.86" stroke-width="0.2">hi</tspan><tspan dy="3.9">CD49d</tspan><tspan dy="-3.9" font-size="6.86" stroke-width="0.2">hi</tspan><tspan dy="3.9">TLR9</tspan><tspan dy="-3.9" font-size="6.86" stroke-width="0.2">bright</tspan></text><text x="209.4" y="727" font-size="9.8" fill="#1a1a1a" stroke="#1a1a1a" stroke-width="0.15" transform="rotate(-45 209.4 727)" textLength="91" lengthAdjust="spacingAndGlyphs">CD38<tspan dy="-3.9" font-size="6.86" stroke-width="0.2">lo</tspan><tspan dy="3.9">CD49d</tspan><tspan dy="-3.9" font-size="6.86" stroke-width="0.2">lo</tspan><tspan dy="3.9">TLR9</tspan><tspan dy="-3.9" font-size="6.86" stroke-width="0.2">dim</tspan></text><text x="303.9" y="522.3" font-size="12.6" fill="#111" stroke="#111" stroke-width="0.5" font-weight="bold" textLength="8.4" lengthAdjust="spacingAndGlyphs">D</text><line x1="343.2" y1="544" x2="343.2" y2="654.5" stroke="#111" stroke-width="1.4"/><line x1="342.5" y1="653.8" x2="506" y2="653.8" stroke="#111" stroke-width="1.4"/><line x1="339.8" y1="547.4" x2="343.2" y2="547.4" stroke="#111" stroke-width="1.1"/><text x="337.8" y="550.5" font-size="8.6" text-anchor="end" fill="#222" stroke="#222" stroke-width="0.15">30</text><line x1="339.8" y1="582.9" x2="343.2" y2="582.9" stroke="#111" stroke-width="1.1"/><text x="337.8" y="586.0" font-size="8.6" text-anchor="end" fill="#222" stroke="#222" stroke-width="0.15">20</text><line x1="339.8" y1="618.4" x2="343.2" y2="618.4" stroke="#111" stroke-width="1.1"/><text x="337.8" y="621.5" font-size="8.6" text-anchor="end" fill="#222" stroke="#222" stroke-width="0.15">10</text><line x1="339.8" y1="653.8" x2="343.2" y2="653.8" stroke="#111" stroke-width="1.1"/><text x="337.8" y="656.9" font-size="8.6" text-anchor="end" fill="#222" stroke="#222" stroke-width="0.15">0</text><line x1="343.2" y1="653.8" x2="343.2" y2="657.2" stroke="#111" stroke-width="1.1"/><text x="343.2" y="668.1" font-size="8.6" text-anchor="middle" fill="#222" stroke="#222" stroke-width="0.15">0</text><line x1="383.2" y1="653.8" x2="383.2" y2="657.2" stroke="#111" stroke-width="1.1"/><text x="383.2" y="668.1" font-size="8.6" text-anchor="middle" fill="#222" stroke="#222" stroke-width="0.15" textLength="19" lengthAdjust="spacingAndGlyphs">1000</text><line x1="423.2" y1="653.8" x2="423.2" y2="657.2" stroke="#111" stroke-width="1.1"/><text x="423.2" y="668.1" font-size="8.6" text-anchor="middle" fill="#222" stroke="#222" stroke-width="0.15" textLength="19" lengthAdjust="spacingAndGlyphs">2000</text><line x1="463" y1="653.8" x2="463" y2="657.2" stroke="#111" stroke-width="1.1"/><text x="463" y="668.1" font-size="8.6" text-anchor="middle" fill="#222" stroke="#222" stroke-width="0.15" textLength="19" lengthAdjust="spacingAndGlyphs">3000</text><line x1="503" y1="653.8" x2="503" y2="657.2" stroke="#111" stroke-width="1.1"/><text x="503" y="668.1" font-size="8.6" text-anchor="middle" fill="#222" stroke="#222" stroke-width="0.15" textLength="19" lengthAdjust="spacingAndGlyphs">4000</text><line x1="348.1" y1="651.1" x2="464.4" y2="584.6" stroke="#ef8f14" stroke-width="1.3"/><circle cx="349.4" cy="651.9" r="2.2" fill="#ef8f14"/><circle cx="352.9" cy="652.7" r="2.2" fill="#ef8f14"/><circle cx="363.7" cy="647.9" r="2.2" fill="#ef8f14"/><circle cx="366.1" cy="639" r="2.2" fill="#ef8f14"/><circle cx="366.9" cy="629.9" r="2.2" fill="#ef8f14"/><circle cx="373.1" cy="642.5" r="2.2" fill="#ef8f14"/><circle cx="373.9" cy="649.8" r="2.2" fill="#ef8f14"/><circle cx="373.7" cy="595.9" r="2.2" fill="#ef8f14"/><circle cx="379.6" cy="637.1" r="2.2" fill="#ef8f14"/><circle cx="383.6" cy="637.7" r="2.2" fill="#ef8f14"/><circle cx="385.8" cy="616.4" r="2.2" fill="#ef8f14"/><circle cx="388.7" cy="632.5" r="2.2" fill="#ef8f14"/><circle cx="392.8" cy="635.8" r="2.2" fill="#ef8f14"/><circle cx="399.2" cy="618.3" r="2.2" fill="#ef8f14"/><circle cx="408.9" cy="649.2" r="2.2" fill="#ef8f14"/><circle cx="416.5" cy="590" r="2.2" fill="#ef8f14"/><circle cx="416.7" cy="611.3" r="2.2" fill="#ef8f14"/><circle cx="421.6" cy="637.9" r="2.2" fill="#ef8f14"/><circle cx="443.7" cy="599.4" r="2.2" fill="#ef8f14"/><circle cx="464.4" cy="565.2" r="2.2" fill="#ef8f14"/><text x="472.6" y="603.6" font-size="8.6" fill="#222" stroke="#222" stroke-width="0.15" textLength="34.6" lengthAdjust="spacingAndGlyphs">P &lt; 0.001</text><text x="472.6" y="613.3" font-size="8.6" fill="#222" stroke="#222" stroke-width="0.15" textLength="28.2" lengthAdjust="spacingAndGlyphs">r = 0.72</text><text x="472.6" y="623" font-size="8.6" fill="#222" stroke="#222" stroke-width="0.15" textLength="22" lengthAdjust="spacingAndGlyphs">N =20</text><text x="322" y="623.6" font-size="10.3" fill="#222" stroke="#222" stroke-width="0.15" textLength="49.4" lengthAdjust="spacingAndGlyphs" transform="rotate(-90 322 623.6)">Migration (%)</text><text x="406.2" y="682.4" font-size="10" fill="#222" stroke="#222" stroke-width="0.15" textLength="36.8" lengthAdjust="spacingAndGlyphs">eTLR9 MFI</text></svg>
<div class="frame"></div>
</body></html>
